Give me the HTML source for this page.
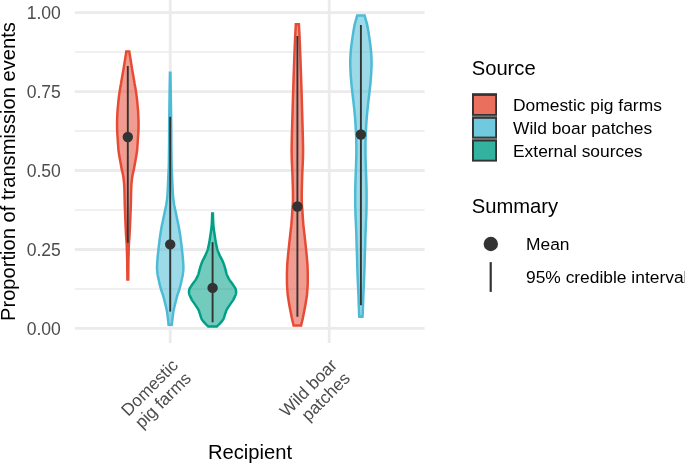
<!DOCTYPE html>
<html><head><meta charset="utf-8"><title>Proportion of transmission events</title>
<style>
html,body{margin:0;padding:0;background:#fff;}
body{width:685px;height:463px;overflow:hidden;}
svg{display:block;font-family:"Liberation Sans",sans-serif;}
</style></head><body>
<svg width="685" height="463" viewBox="0 0 685 463">
<rect width="685" height="463" fill="#ffffff"/>

<g stroke="#EBEBEB" fill="none">
<line x1="74.8" x2="424.6" y1="288.92" y2="288.92" stroke-width="1.42"/>
<line x1="74.8" x2="424.6" y1="209.97" y2="209.97" stroke-width="1.42"/>
<line x1="74.8" x2="424.6" y1="131.02" y2="131.02" stroke-width="1.42"/>
<line x1="74.8" x2="424.6" y1="52.07" y2="52.07" stroke-width="1.42"/>
<line x1="74.8" x2="424.6" y1="328.40" y2="328.40" stroke-width="2.85"/>
<line x1="74.8" x2="424.6" y1="249.45" y2="249.45" stroke-width="2.85"/>
<line x1="74.8" x2="424.6" y1="170.50" y2="170.50" stroke-width="2.85"/>
<line x1="74.8" x2="424.6" y1="91.55" y2="91.55" stroke-width="2.85"/>
<line x1="74.8" x2="424.6" y1="12.60" y2="12.60" stroke-width="2.85"/>
<line x1="170.2" x2="170.2" y1="0" y2="343.0" stroke-width="2.85"/>
<line x1="329.2" x2="329.2" y1="0" y2="343.0" stroke-width="2.85"/>
</g>
<path d="M126.29,51.60 L126.24,52.10 L126.18,52.60 L126.10,53.10 L126.02,53.60 L125.93,54.10 L125.85,54.61 L125.77,55.11 L125.68,55.61 L125.60,56.11 L125.52,56.61 L125.43,57.11 L125.35,57.61 L125.26,58.11 L125.18,58.61 L125.10,59.11 L125.02,59.61 L124.93,60.11 L124.85,60.62 L124.77,61.12 L124.69,61.62 L124.61,62.12 L124.53,62.62 L124.45,63.12 L124.37,63.62 L124.29,64.12 L124.21,64.62 L124.13,65.12 L124.05,65.62 L123.97,66.13 L123.89,66.63 L123.81,67.13 L123.73,67.63 L123.65,68.13 L123.57,68.63 L123.49,69.13 L123.41,69.63 L123.32,70.13 L123.24,70.63 L123.15,71.13 L123.06,71.64 L122.98,72.14 L122.89,72.64 L122.80,73.14 L122.71,73.64 L122.63,74.14 L122.54,74.64 L122.45,75.14 L122.36,75.64 L122.27,76.14 L122.19,76.64 L122.10,77.14 L122.01,77.65 L121.93,78.15 L121.84,78.65 L121.75,79.15 L121.67,79.65 L121.58,80.15 L121.50,80.65 L121.41,81.15 L121.32,81.65 L121.24,82.15 L121.15,82.65 L121.07,83.16 L120.98,83.66 L120.89,84.16 L120.81,84.66 L120.72,85.16 L120.63,85.66 L120.55,86.16 L120.46,86.66 L120.37,87.16 L120.28,87.66 L120.20,88.16 L120.11,88.67 L120.02,89.17 L119.94,89.67 L119.85,90.17 L119.76,90.67 L119.68,91.17 L119.61,91.67 L119.54,92.17 L119.47,92.67 L119.40,93.17 L119.33,93.67 L119.26,94.17 L119.20,94.68 L119.13,95.18 L119.06,95.68 L118.99,96.18 L118.93,96.68 L118.86,97.18 L118.80,97.68 L118.74,98.18 L118.69,98.68 L118.63,99.18 L118.58,99.68 L118.53,100.19 L118.48,100.69 L118.43,101.19 L118.38,101.69 L118.33,102.19 L118.28,102.69 L118.23,103.19 L118.18,103.69 L118.13,104.19 L118.08,104.69 L118.04,105.19 L117.99,105.69 L117.95,106.20 L117.90,106.70 L117.86,107.20 L117.82,107.70 L117.78,108.20 L117.73,108.70 L117.69,109.20 L117.65,109.70 L117.60,110.20 L117.56,110.70 L117.52,111.20 L117.48,111.71 L117.45,112.21 L117.42,112.71 L117.40,113.21 L117.38,113.71 L117.35,114.21 L117.33,114.71 L117.31,115.21 L117.29,115.71 L117.27,116.21 L117.24,116.71 L117.22,117.22 L117.20,117.72 L117.18,118.22 L117.16,118.72 L117.14,119.22 L117.12,119.72 L117.11,120.22 L117.10,120.72 L117.09,121.22 L117.08,121.72 L117.08,122.22 L117.07,122.72 L117.07,123.23 L117.06,123.73 L117.06,124.23 L117.06,124.73 L117.06,125.23 L117.06,125.73 L117.07,126.23 L117.08,126.73 L117.09,127.23 L117.10,127.73 L117.10,128.23 L117.11,128.74 L117.12,129.24 L117.13,129.74 L117.14,130.24 L117.16,130.74 L117.18,131.24 L117.20,131.74 L117.23,132.24 L117.27,132.74 L117.30,133.24 L117.33,133.74 L117.37,134.25 L117.40,134.75 L117.43,135.25 L117.47,135.75 L117.50,136.25 L117.53,136.75 L117.57,137.25 L117.60,137.75 L117.63,138.25 L117.67,138.75 L117.70,139.25 L117.73,139.75 L117.77,140.26 L117.80,140.76 L117.83,141.26 L117.87,141.76 L117.90,142.26 L117.94,142.76 L117.97,143.26 L118.00,143.76 L118.04,144.26 L118.08,144.76 L118.11,145.26 L118.15,145.77 L118.18,146.27 L118.22,146.77 L118.25,147.27 L118.29,147.77 L118.33,148.27 L118.36,148.77 L118.40,149.27 L118.45,149.77 L118.50,150.27 L118.56,150.77 L118.63,151.27 L118.70,151.78 L118.77,152.28 L118.84,152.78 L118.91,153.28 L118.98,153.78 L119.05,154.28 L119.13,154.78 L119.21,155.28 L119.29,155.78 L119.38,156.28 L119.47,156.78 L119.56,157.29 L119.65,157.79 L119.74,158.29 L119.83,158.79 L119.92,159.29 L120.01,159.79 L120.10,160.29 L120.19,160.79 L120.28,161.29 L120.37,161.79 L120.46,162.29 L120.55,162.80 L120.64,163.30 L120.73,163.80 L120.82,164.30 L120.91,164.80 L121.00,165.30 L121.10,165.80 L121.19,166.30 L121.28,166.80 L121.37,167.30 L121.46,167.80 L121.55,168.30 L121.64,168.81 L121.73,169.31 L121.83,169.81 L121.93,170.31 L122.04,170.81 L122.16,171.31 L122.29,171.81 L122.42,172.31 L122.54,172.81 L122.67,173.31 L122.78,173.81 L122.89,174.32 L122.99,174.82 L123.08,175.32 L123.17,175.82 L123.26,176.32 L123.34,176.82 L123.42,177.32 L123.50,177.82 L123.57,178.32 L123.63,178.82 L123.68,179.32 L123.73,179.83 L123.78,180.33 L123.83,180.83 L123.88,181.33 L123.93,181.83 L123.98,182.33 L124.03,182.83 L124.08,183.33 L124.13,183.83 L124.18,184.33 L124.22,184.83 L124.25,185.33 L124.27,185.84 L124.29,186.34 L124.30,186.84 L124.32,187.34 L124.34,187.84 L124.35,188.34 L124.37,188.84 L124.38,189.34 L124.40,189.84 L124.41,190.34 L124.43,190.84 L124.44,191.35 L124.46,191.85 L124.47,192.35 L124.49,192.85 L124.50,193.35 L124.52,193.85 L124.53,194.35 L124.54,194.85 L124.56,195.35 L124.57,195.85 L124.58,196.35 L124.59,196.85 L124.60,197.36 L124.61,197.86 L124.62,198.36 L124.63,198.86 L124.64,199.36 L124.65,199.86 L124.66,200.36 L124.67,200.86 L124.68,201.36 L124.69,201.86 L124.70,202.36 L124.71,202.87 L124.72,203.37 L124.73,203.87 L124.74,204.37 L124.75,204.87 L124.77,205.37 L124.79,205.87 L124.81,206.37 L124.82,206.87 L124.84,207.37 L124.86,207.87 L124.89,208.38 L124.91,208.88 L124.93,209.38 L124.95,209.88 L124.97,210.38 L124.99,210.88 L125.01,211.38 L125.03,211.88 L125.05,212.38 L125.07,212.88 L125.09,213.38 L125.11,213.88 L125.13,214.39 L125.15,214.89 L125.17,215.39 L125.19,215.89 L125.21,216.39 L125.23,216.89 L125.25,217.39 L125.27,217.89 L125.29,218.39 L125.31,218.89 L125.33,219.39 L125.35,219.90 L125.37,220.40 L125.39,220.90 L125.41,221.40 L125.43,221.90 L125.45,222.40 L125.47,222.90 L125.49,223.40 L125.51,223.90 L125.53,224.40 L125.55,224.90 L125.57,225.41 L125.60,225.91 L125.62,226.41 L125.65,226.91 L125.67,227.41 L125.70,227.91 L125.72,228.41 L125.75,228.91 L125.77,229.41 L125.80,229.91 L125.82,230.41 L125.85,230.91 L125.87,231.42 L125.90,231.92 L125.92,232.42 L125.95,232.92 L125.97,233.42 L126.00,233.92 L126.02,234.42 L126.05,234.92 L126.08,235.42 L126.12,235.92 L126.15,236.42 L126.18,236.93 L126.22,237.43 L126.25,237.93 L126.29,238.43 L126.33,238.93 L126.36,239.43 L126.40,239.93 L126.43,240.43 L126.47,240.93 L126.50,241.43 L126.54,241.93 L126.57,242.43 L126.61,242.94 L126.64,243.44 L126.67,243.94 L126.71,244.44 L126.73,244.94 L126.76,245.44 L126.78,245.94 L126.79,246.44 L126.81,246.94 L126.82,247.44 L126.84,247.94 L126.85,248.45 L126.87,248.95 L126.88,249.45 L126.90,249.95 L126.91,250.45 L126.93,250.95 L126.94,251.45 L126.96,251.95 L126.97,252.45 L126.99,252.95 L127.00,253.45 L127.02,253.96 L127.03,254.46 L127.05,254.96 L127.06,255.46 L127.08,255.96 L127.09,256.46 L127.11,256.96 L127.12,257.46 L127.14,257.96 L127.15,258.46 L127.17,258.96 L127.18,259.46 L127.19,259.97 L127.20,260.47 L127.21,260.97 L127.21,261.47 L127.22,261.97 L127.22,262.47 L127.23,262.97 L127.23,263.47 L127.24,263.97 L127.24,264.47 L127.25,264.97 L127.25,265.48 L127.26,265.98 L127.26,266.48 L127.27,266.98 L127.27,267.48 L127.28,267.98 L127.28,268.48 L127.29,268.98 L127.29,269.48 L127.30,269.98 L127.30,270.48 L127.31,270.99 L127.31,271.49 L127.32,271.99 L127.32,272.49 L127.33,272.99 L127.33,273.49 L127.34,273.99 L127.35,274.49 L127.35,274.99 L127.36,275.49 L127.36,275.99 L127.37,276.49 L127.37,277.00 L127.38,277.50 L127.38,278.00 L127.39,278.50 L127.39,279.00 L127.40,279.50 L128.20,279.50 L128.21,279.00 L128.21,278.50 L128.22,278.00 L128.22,277.50 L128.23,277.00 L128.23,276.49 L128.24,275.99 L128.24,275.49 L128.25,274.99 L128.25,274.49 L128.26,273.99 L128.27,273.49 L128.27,272.99 L128.28,272.49 L128.28,271.99 L128.29,271.49 L128.29,270.99 L128.30,270.48 L128.30,269.98 L128.31,269.48 L128.31,268.98 L128.32,268.48 L128.32,267.98 L128.33,267.48 L128.33,266.98 L128.34,266.48 L128.34,265.98 L128.35,265.48 L128.35,264.97 L128.36,264.47 L128.36,263.97 L128.37,263.47 L128.37,262.97 L128.38,262.47 L128.38,261.97 L128.39,261.47 L128.39,260.97 L128.40,260.47 L128.41,259.97 L128.42,259.46 L128.43,258.96 L128.45,258.46 L128.46,257.96 L128.48,257.46 L128.49,256.96 L128.51,256.46 L128.52,255.96 L128.54,255.46 L128.55,254.96 L128.57,254.46 L128.58,253.96 L128.60,253.45 L128.61,252.95 L128.63,252.45 L128.64,251.95 L128.66,251.45 L128.67,250.95 L128.69,250.45 L128.70,249.95 L128.72,249.45 L128.73,248.95 L128.75,248.45 L128.76,247.94 L128.78,247.44 L128.79,246.94 L128.81,246.44 L128.82,245.94 L128.84,245.44 L128.87,244.94 L128.89,244.44 L128.93,243.94 L128.96,243.44 L128.99,242.94 L129.03,242.43 L129.06,241.93 L129.10,241.43 L129.13,240.93 L129.17,240.43 L129.20,239.93 L129.24,239.43 L129.27,238.93 L129.31,238.43 L129.35,237.93 L129.38,237.43 L129.42,236.93 L129.45,236.42 L129.48,235.92 L129.52,235.42 L129.55,234.92 L129.58,234.42 L129.60,233.92 L129.63,233.42 L129.65,232.92 L129.68,232.42 L129.70,231.92 L129.73,231.42 L129.75,230.91 L129.78,230.41 L129.80,229.91 L129.83,229.41 L129.85,228.91 L129.88,228.41 L129.90,227.91 L129.93,227.41 L129.95,226.91 L129.98,226.41 L130.00,225.91 L130.03,225.41 L130.05,224.90 L130.07,224.40 L130.09,223.90 L130.11,223.40 L130.13,222.90 L130.15,222.40 L130.17,221.90 L130.19,221.40 L130.21,220.90 L130.23,220.40 L130.25,219.90 L130.27,219.39 L130.29,218.89 L130.31,218.39 L130.33,217.89 L130.35,217.39 L130.37,216.89 L130.39,216.39 L130.41,215.89 L130.43,215.39 L130.45,214.89 L130.47,214.39 L130.49,213.88 L130.51,213.38 L130.53,212.88 L130.55,212.38 L130.57,211.88 L130.59,211.38 L130.61,210.88 L130.63,210.38 L130.65,209.88 L130.67,209.38 L130.69,208.88 L130.71,208.38 L130.74,207.87 L130.76,207.37 L130.78,206.87 L130.79,206.37 L130.81,205.87 L130.83,205.37 L130.85,204.87 L130.86,204.37 L130.87,203.87 L130.88,203.37 L130.89,202.87 L130.90,202.36 L130.91,201.86 L130.92,201.36 L130.93,200.86 L130.94,200.36 L130.95,199.86 L130.96,199.36 L130.97,198.86 L130.98,198.36 L130.99,197.86 L131.00,197.36 L131.01,196.85 L131.02,196.35 L131.03,195.85 L131.04,195.35 L131.06,194.85 L131.07,194.35 L131.08,193.85 L131.10,193.35 L131.11,192.85 L131.13,192.35 L131.14,191.85 L131.16,191.35 L131.17,190.84 L131.19,190.34 L131.20,189.84 L131.22,189.34 L131.23,188.84 L131.25,188.34 L131.26,187.84 L131.28,187.34 L131.30,186.84 L131.31,186.34 L131.33,185.84 L131.35,185.33 L131.38,184.83 L131.42,184.33 L131.47,183.83 L131.52,183.33 L131.57,182.83 L131.62,182.33 L131.67,181.83 L131.72,181.33 L131.77,180.83 L131.82,180.33 L131.87,179.83 L131.92,179.32 L131.97,178.82 L132.03,178.32 L132.10,177.82 L132.18,177.32 L132.26,176.82 L132.34,176.32 L132.43,175.82 L132.52,175.32 L132.61,174.82 L132.71,174.32 L132.82,173.81 L132.93,173.31 L133.06,172.81 L133.18,172.31 L133.31,171.81 L133.44,171.31 L133.56,170.81 L133.67,170.31 L133.77,169.81 L133.87,169.31 L133.96,168.81 L134.05,168.30 L134.14,167.80 L134.23,167.30 L134.32,166.80 L134.41,166.30 L134.50,165.80 L134.60,165.30 L134.69,164.80 L134.78,164.30 L134.87,163.80 L134.96,163.30 L135.05,162.80 L135.14,162.29 L135.23,161.79 L135.32,161.29 L135.41,160.79 L135.50,160.29 L135.59,159.79 L135.68,159.29 L135.77,158.79 L135.86,158.29 L135.95,157.79 L136.04,157.29 L136.13,156.78 L136.22,156.28 L136.31,155.78 L136.39,155.28 L136.47,154.78 L136.55,154.28 L136.62,153.78 L136.69,153.28 L136.76,152.78 L136.83,152.28 L136.90,151.78 L136.97,151.27 L137.04,150.77 L137.10,150.27 L137.15,149.77 L137.20,149.27 L137.24,148.77 L137.27,148.27 L137.31,147.77 L137.35,147.27 L137.38,146.77 L137.42,146.27 L137.45,145.77 L137.49,145.26 L137.52,144.76 L137.56,144.26 L137.60,143.76 L137.63,143.26 L137.66,142.76 L137.70,142.26 L137.73,141.76 L137.77,141.26 L137.80,140.76 L137.83,140.26 L137.87,139.75 L137.90,139.25 L137.93,138.75 L137.97,138.25 L138.00,137.75 L138.03,137.25 L138.07,136.75 L138.10,136.25 L138.13,135.75 L138.17,135.25 L138.20,134.75 L138.23,134.25 L138.27,133.74 L138.30,133.24 L138.33,132.74 L138.37,132.24 L138.40,131.74 L138.42,131.24 L138.44,130.74 L138.46,130.24 L138.47,129.74 L138.48,129.24 L138.49,128.74 L138.50,128.23 L138.50,127.73 L138.51,127.23 L138.52,126.73 L138.53,126.23 L138.54,125.73 L138.54,125.23 L138.54,124.73 L138.54,124.23 L138.54,123.73 L138.53,123.23 L138.53,122.72 L138.52,122.22 L138.52,121.72 L138.51,121.22 L138.50,120.72 L138.49,120.22 L138.48,119.72 L138.46,119.22 L138.44,118.72 L138.42,118.22 L138.40,117.72 L138.38,117.22 L138.36,116.71 L138.33,116.21 L138.31,115.71 L138.29,115.21 L138.27,114.71 L138.25,114.21 L138.22,113.71 L138.20,113.21 L138.18,112.71 L138.15,112.21 L138.12,111.71 L138.08,111.20 L138.04,110.70 L138.00,110.20 L137.95,109.70 L137.91,109.20 L137.87,108.70 L137.82,108.20 L137.78,107.70 L137.74,107.20 L137.70,106.70 L137.65,106.20 L137.61,105.69 L137.56,105.19 L137.52,104.69 L137.47,104.19 L137.42,103.69 L137.37,103.19 L137.32,102.69 L137.27,102.19 L137.22,101.69 L137.17,101.19 L137.12,100.69 L137.07,100.19 L137.02,99.68 L136.97,99.18 L136.91,98.68 L136.86,98.18 L136.80,97.68 L136.74,97.18 L136.67,96.68 L136.61,96.18 L136.54,95.68 L136.47,95.18 L136.40,94.68 L136.34,94.17 L136.27,93.67 L136.20,93.17 L136.13,92.67 L136.06,92.17 L135.99,91.67 L135.92,91.17 L135.84,90.67 L135.75,90.17 L135.66,89.67 L135.58,89.17 L135.49,88.67 L135.40,88.16 L135.32,87.66 L135.23,87.16 L135.14,86.66 L135.05,86.16 L134.97,85.66 L134.88,85.16 L134.79,84.66 L134.71,84.16 L134.62,83.66 L134.53,83.16 L134.45,82.65 L134.36,82.15 L134.28,81.65 L134.19,81.15 L134.10,80.65 L134.02,80.15 L133.93,79.65 L133.85,79.15 L133.76,78.65 L133.67,78.15 L133.59,77.65 L133.50,77.14 L133.41,76.64 L133.33,76.14 L133.24,75.64 L133.15,75.14 L133.06,74.64 L132.97,74.14 L132.89,73.64 L132.80,73.14 L132.71,72.64 L132.62,72.14 L132.54,71.64 L132.45,71.13 L132.36,70.63 L132.28,70.13 L132.19,69.63 L132.11,69.13 L132.03,68.63 L131.95,68.13 L131.87,67.63 L131.79,67.13 L131.71,66.63 L131.63,66.13 L131.55,65.62 L131.47,65.12 L131.39,64.62 L131.31,64.12 L131.23,63.62 L131.15,63.12 L131.07,62.62 L130.99,62.12 L130.91,61.62 L130.83,61.12 L130.75,60.62 L130.67,60.11 L130.58,59.61 L130.50,59.11 L130.42,58.61 L130.34,58.11 L130.25,57.61 L130.17,57.11 L130.08,56.61 L130.00,56.11 L129.92,55.61 L129.83,55.11 L129.75,54.61 L129.67,54.10 L129.58,53.60 L129.50,53.10 L129.42,52.60 L129.36,52.10 L129.31,51.60Z" fill="#E64B35" fill-opacity="0.55" stroke="#E64B35" stroke-width="2.5" stroke-linejoin="miter"/>
<path d="M169.99,72.70 L169.99,73.20 L169.98,73.70 L169.97,74.20 L169.96,74.70 L169.95,75.20 L169.94,75.70 L169.93,76.20 L169.92,76.70 L169.91,77.20 L169.90,77.70 L169.89,78.20 L169.88,78.70 L169.87,79.20 L169.86,79.70 L169.85,80.20 L169.84,80.70 L169.83,81.20 L169.82,81.70 L169.81,82.20 L169.80,82.70 L169.79,83.20 L169.78,83.70 L169.77,84.20 L169.76,84.70 L169.75,85.20 L169.74,85.70 L169.73,86.20 L169.72,86.70 L169.72,87.20 L169.71,87.70 L169.70,88.20 L169.69,88.70 L169.69,89.20 L169.68,89.70 L169.67,90.20 L169.66,90.70 L169.66,91.20 L169.65,91.70 L169.64,92.20 L169.63,92.70 L169.63,93.20 L169.62,93.70 L169.61,94.20 L169.60,94.70 L169.60,95.20 L169.59,95.70 L169.58,96.20 L169.57,96.70 L169.57,97.20 L169.56,97.70 L169.55,98.20 L169.54,98.70 L169.54,99.20 L169.53,99.70 L169.52,100.20 L169.51,100.70 L169.51,101.20 L169.50,101.70 L169.49,102.20 L169.48,102.70 L169.48,103.20 L169.47,103.70 L169.46,104.20 L169.46,104.70 L169.45,105.20 L169.44,105.70 L169.44,106.20 L169.43,106.70 L169.42,107.20 L169.42,107.70 L169.41,108.20 L169.40,108.70 L169.40,109.20 L169.39,109.70 L169.38,110.20 L169.38,110.70 L169.37,111.20 L169.37,111.70 L169.36,112.20 L169.35,112.70 L169.35,113.20 L169.34,113.70 L169.33,114.20 L169.33,114.70 L169.32,115.20 L169.32,115.70 L169.31,116.20 L169.30,116.70 L169.30,117.20 L169.29,117.70 L169.28,118.20 L169.28,118.70 L169.27,119.20 L169.27,119.70 L169.26,120.20 L169.25,120.70 L169.25,121.20 L169.24,121.70 L169.23,122.20 L169.23,122.70 L169.22,123.20 L169.22,123.70 L169.21,124.20 L169.21,124.70 L169.20,125.20 L169.20,125.70 L169.19,126.20 L169.19,126.70 L169.19,127.20 L169.19,127.70 L169.18,128.20 L169.18,128.70 L169.18,129.20 L169.17,129.70 L169.17,130.20 L169.17,130.70 L169.17,131.20 L169.16,131.70 L169.16,132.20 L169.16,132.70 L169.15,133.20 L169.15,133.70 L169.15,134.20 L169.15,134.70 L169.14,135.20 L169.14,135.70 L169.14,136.20 L169.14,136.70 L169.13,137.20 L169.13,137.70 L169.13,138.20 L169.12,138.70 L169.12,139.20 L169.12,139.70 L169.12,140.20 L169.11,140.70 L169.11,141.20 L169.11,141.70 L169.11,142.20 L169.10,142.70 L169.10,143.20 L169.10,143.70 L169.09,144.20 L169.09,144.70 L169.09,145.20 L169.08,145.70 L169.08,146.20 L169.07,146.70 L169.06,147.20 L169.06,147.70 L169.05,148.20 L169.05,148.70 L169.04,149.20 L169.03,149.70 L169.03,150.20 L169.02,150.70 L169.02,151.20 L169.01,151.70 L169.00,152.20 L169.00,152.70 L168.99,153.20 L168.99,153.70 L168.98,154.20 L168.97,154.70 L168.97,155.20 L168.96,155.70 L168.96,156.20 L168.95,156.70 L168.94,157.20 L168.94,157.70 L168.93,158.20 L168.93,158.70 L168.92,159.20 L168.91,159.70 L168.91,160.20 L168.90,160.70 L168.90,161.20 L168.89,161.70 L168.88,162.20 L168.88,162.70 L168.87,163.20 L168.86,163.70 L168.86,164.20 L168.85,164.70 L168.83,165.20 L168.81,165.70 L168.79,166.20 L168.76,166.70 L168.74,167.20 L168.72,167.70 L168.69,168.20 L168.66,168.70 L168.64,169.20 L168.62,169.70 L168.59,170.20 L168.57,170.70 L168.54,171.20 L168.52,171.70 L168.50,172.20 L168.48,172.70 L168.46,173.20 L168.43,173.70 L168.41,174.20 L168.39,174.70 L168.37,175.20 L168.35,175.70 L168.33,176.20 L168.31,176.70 L168.28,177.20 L168.26,177.70 L168.24,178.20 L168.22,178.70 L168.20,179.20 L168.18,179.70 L168.16,180.20 L168.13,180.70 L168.11,181.20 L168.09,181.70 L168.07,182.20 L168.05,182.70 L168.03,183.20 L168.01,183.70 L167.98,184.20 L167.96,184.70 L167.94,185.20 L167.92,185.70 L167.90,186.20 L167.88,186.70 L167.86,187.20 L167.84,187.70 L167.82,188.20 L167.80,188.70 L167.78,189.20 L167.76,189.70 L167.73,190.20 L167.71,190.70 L167.68,191.20 L167.65,191.70 L167.62,192.20 L167.59,192.70 L167.56,193.20 L167.53,193.70 L167.50,194.20 L167.46,194.70 L167.42,195.20 L167.38,195.70 L167.33,196.20 L167.28,196.70 L167.23,197.20 L167.18,197.70 L167.13,198.20 L167.08,198.70 L167.03,199.20 L166.97,199.70 L166.91,200.20 L166.84,200.70 L166.77,201.20 L166.69,201.70 L166.62,202.20 L166.54,202.70 L166.47,203.20 L166.39,203.70 L166.32,204.20 L166.23,204.70 L166.14,205.20 L166.05,205.70 L165.95,206.20 L165.84,206.70 L165.74,207.20 L165.63,207.70 L165.53,208.20 L165.42,208.70 L165.32,209.20 L165.21,209.70 L165.11,210.20 L165.00,210.70 L164.90,211.20 L164.79,211.70 L164.68,212.20 L164.58,212.70 L164.47,213.20 L164.37,213.70 L164.26,214.20 L164.15,214.70 L164.05,215.20 L163.94,215.70 L163.84,216.20 L163.74,216.70 L163.63,217.20 L163.53,217.70 L163.42,218.20 L163.32,218.70 L163.22,219.20 L163.11,219.70 L163.00,220.20 L162.89,220.70 L162.79,221.20 L162.68,221.70 L162.57,222.20 L162.46,222.70 L162.35,223.20 L162.24,223.70 L162.13,224.20 L162.02,224.70 L161.92,225.20 L161.83,225.70 L161.73,226.20 L161.64,226.70 L161.55,227.20 L161.46,227.70 L161.37,228.20 L161.28,228.70 L161.20,229.20 L161.11,229.70 L161.02,230.20 L160.94,230.70 L160.86,231.20 L160.78,231.70 L160.70,232.20 L160.62,232.70 L160.54,233.20 L160.46,233.70 L160.38,234.20 L160.30,234.70 L160.23,235.20 L160.16,235.70 L160.09,236.20 L160.03,236.70 L159.96,237.20 L159.90,237.70 L159.83,238.20 L159.77,238.70 L159.70,239.20 L159.64,239.70 L159.57,240.20 L159.51,240.70 L159.44,241.20 L159.38,241.70 L159.31,242.20 L159.25,242.70 L159.18,243.20 L159.12,243.70 L159.06,244.20 L158.99,244.70 L158.93,245.20 L158.87,245.70 L158.82,246.20 L158.76,246.70 L158.71,247.20 L158.65,247.70 L158.60,248.20 L158.54,248.70 L158.49,249.20 L158.43,249.70 L158.38,250.20 L158.32,250.70 L158.27,251.20 L158.21,251.70 L158.16,252.20 L158.10,252.70 L158.05,253.20 L157.99,253.70 L157.94,254.20 L157.89,254.70 L157.84,255.20 L157.79,255.70 L157.75,256.20 L157.70,256.70 L157.66,257.20 L157.62,257.70 L157.58,258.20 L157.53,258.70 L157.49,259.20 L157.45,259.70 L157.40,260.20 L157.36,260.70 L157.32,261.20 L157.28,261.70 L157.24,262.20 L157.21,262.70 L157.18,263.20 L157.14,263.70 L157.11,264.20 L157.08,264.70 L157.06,265.20 L157.03,265.70 L157.02,266.20 L157.02,266.70 L157.02,267.20 L157.02,267.70 L157.03,268.20 L157.04,268.70 L157.05,269.20 L157.07,269.70 L157.10,270.20 L157.14,270.70 L157.20,271.20 L157.25,271.70 L157.31,272.20 L157.37,272.70 L157.43,273.20 L157.50,273.70 L157.56,274.20 L157.63,274.70 L157.72,275.20 L157.81,275.70 L157.92,276.20 L158.02,276.70 L158.13,277.20 L158.24,277.70 L158.35,278.20 L158.46,278.70 L158.57,279.20 L158.68,279.70 L158.79,280.20 L158.90,280.70 L159.01,281.20 L159.12,281.70 L159.23,282.20 L159.34,282.70 L159.45,283.20 L159.56,283.70 L159.68,284.20 L159.79,284.70 L159.91,285.20 L160.04,285.70 L160.16,286.20 L160.29,286.70 L160.42,287.20 L160.55,287.70 L160.68,288.20 L160.81,288.70 L160.95,289.20 L161.09,289.70 L161.25,290.20 L161.41,290.70 L161.58,291.20 L161.76,291.70 L161.94,292.20 L162.12,292.70 L162.30,293.20 L162.48,293.70 L162.66,294.20 L162.82,294.70 L162.98,295.20 L163.13,295.70 L163.27,296.20 L163.41,296.70 L163.54,297.20 L163.68,297.70 L163.81,298.20 L163.95,298.70 L164.08,299.20 L164.21,299.70 L164.35,300.20 L164.47,300.70 L164.60,301.20 L164.72,301.70 L164.85,302.20 L164.97,302.70 L165.10,303.20 L165.22,303.70 L165.35,304.20 L165.47,304.70 L165.60,305.20 L165.72,305.70 L165.84,306.20 L165.96,306.70 L166.08,307.20 L166.20,307.70 L166.32,308.20 L166.44,308.70 L166.55,309.20 L166.66,309.70 L166.75,310.20 L166.84,310.70 L166.92,311.20 L166.99,311.70 L167.06,312.20 L167.13,312.70 L167.20,313.20 L167.27,313.70 L167.34,314.20 L167.40,314.70 L167.47,315.20 L167.53,315.70 L167.59,316.20 L167.65,316.70 L167.71,317.20 L167.77,317.70 L167.83,318.20 L167.89,318.70 L167.95,319.20 L168.01,319.70 L168.07,320.20 L168.13,320.70 L168.19,321.20 L168.25,321.70 L168.31,322.20 L168.37,322.70 L168.42,323.20 L168.48,323.70 L168.52,324.20 L168.56,324.70 L171.84,324.70 L171.88,324.20 L171.92,323.70 L171.98,323.20 L172.03,322.70 L172.09,322.20 L172.15,321.70 L172.21,321.20 L172.27,320.70 L172.33,320.20 L172.39,319.70 L172.45,319.20 L172.51,318.70 L172.57,318.20 L172.63,317.70 L172.69,317.20 L172.75,316.70 L172.81,316.20 L172.87,315.70 L172.93,315.20 L173.00,314.70 L173.06,314.20 L173.13,313.70 L173.20,313.20 L173.27,312.70 L173.34,312.20 L173.41,311.70 L173.48,311.20 L173.56,310.70 L173.65,310.20 L173.74,309.70 L173.85,309.20 L173.96,308.70 L174.08,308.20 L174.20,307.70 L174.32,307.20 L174.44,306.70 L174.56,306.20 L174.68,305.70 L174.80,305.20 L174.93,304.70 L175.05,304.20 L175.18,303.70 L175.30,303.20 L175.42,302.70 L175.55,302.20 L175.68,301.70 L175.80,301.20 L175.93,300.70 L176.05,300.20 L176.19,299.70 L176.32,299.20 L176.45,298.70 L176.59,298.20 L176.72,297.70 L176.86,297.20 L176.99,296.70 L177.13,296.20 L177.27,295.70 L177.42,295.20 L177.58,294.70 L177.74,294.20 L177.92,293.70 L178.10,293.20 L178.28,292.70 L178.46,292.20 L178.64,291.70 L178.82,291.20 L178.99,290.70 L179.15,290.20 L179.31,289.70 L179.45,289.20 L179.59,288.70 L179.72,288.20 L179.85,287.70 L179.98,287.20 L180.11,286.70 L180.24,286.20 L180.36,285.70 L180.49,285.20 L180.61,284.70 L180.72,284.20 L180.84,283.70 L180.95,283.20 L181.06,282.70 L181.17,282.20 L181.28,281.70 L181.39,281.20 L181.50,280.70 L181.61,280.20 L181.72,279.70 L181.83,279.20 L181.94,278.70 L182.05,278.20 L182.16,277.70 L182.27,277.20 L182.38,276.70 L182.48,276.20 L182.59,275.70 L182.68,275.20 L182.77,274.70 L182.84,274.20 L182.90,273.70 L182.97,273.20 L183.03,272.70 L183.09,272.20 L183.15,271.70 L183.20,271.20 L183.26,270.70 L183.30,270.20 L183.33,269.70 L183.35,269.20 L183.36,268.70 L183.37,268.20 L183.38,267.70 L183.38,267.20 L183.38,266.70 L183.38,266.20 L183.37,265.70 L183.34,265.20 L183.32,264.70 L183.29,264.20 L183.26,263.70 L183.22,263.20 L183.19,262.70 L183.16,262.20 L183.12,261.70 L183.08,261.20 L183.04,260.70 L183.00,260.20 L182.95,259.70 L182.91,259.20 L182.87,258.70 L182.82,258.20 L182.78,257.70 L182.74,257.20 L182.70,256.70 L182.65,256.20 L182.61,255.70 L182.56,255.20 L182.51,254.70 L182.46,254.20 L182.41,253.70 L182.35,253.20 L182.30,252.70 L182.24,252.20 L182.19,251.70 L182.13,251.20 L182.08,250.70 L182.02,250.20 L181.97,249.70 L181.91,249.20 L181.86,248.70 L181.80,248.20 L181.75,247.70 L181.69,247.20 L181.64,246.70 L181.58,246.20 L181.53,245.70 L181.47,245.20 L181.41,244.70 L181.34,244.20 L181.28,243.70 L181.22,243.20 L181.15,242.70 L181.09,242.20 L181.02,241.70 L180.96,241.20 L180.89,240.70 L180.83,240.20 L180.76,239.70 L180.70,239.20 L180.63,238.70 L180.57,238.20 L180.50,237.70 L180.44,237.20 L180.37,236.70 L180.31,236.20 L180.24,235.70 L180.17,235.20 L180.10,234.70 L180.02,234.20 L179.94,233.70 L179.86,233.20 L179.78,232.70 L179.70,232.20 L179.62,231.70 L179.54,231.20 L179.46,230.70 L179.38,230.20 L179.29,229.70 L179.20,229.20 L179.12,228.70 L179.03,228.20 L178.94,227.70 L178.85,227.20 L178.76,226.70 L178.67,226.20 L178.57,225.70 L178.48,225.20 L178.38,224.70 L178.27,224.20 L178.16,223.70 L178.05,223.20 L177.94,222.70 L177.83,222.20 L177.72,221.70 L177.61,221.20 L177.51,220.70 L177.40,220.20 L177.29,219.70 L177.18,219.20 L177.08,218.70 L176.98,218.20 L176.87,217.70 L176.77,217.20 L176.66,216.70 L176.56,216.20 L176.46,215.70 L176.35,215.20 L176.25,214.70 L176.14,214.20 L176.03,213.70 L175.93,213.20 L175.82,212.70 L175.72,212.20 L175.61,211.70 L175.50,211.20 L175.40,210.70 L175.29,210.20 L175.19,209.70 L175.08,209.20 L174.98,208.70 L174.87,208.20 L174.77,207.70 L174.66,207.20 L174.56,206.70 L174.45,206.20 L174.35,205.70 L174.26,205.20 L174.17,204.70 L174.08,204.20 L174.01,203.70 L173.93,203.20 L173.85,202.70 L173.78,202.20 L173.71,201.70 L173.63,201.20 L173.56,200.70 L173.49,200.20 L173.43,199.70 L173.37,199.20 L173.32,198.70 L173.27,198.20 L173.22,197.70 L173.17,197.20 L173.12,196.70 L173.07,196.20 L173.02,195.70 L172.98,195.20 L172.94,194.70 L172.90,194.20 L172.87,193.70 L172.84,193.20 L172.81,192.70 L172.78,192.20 L172.75,191.70 L172.72,191.20 L172.69,190.70 L172.67,190.20 L172.64,189.70 L172.62,189.20 L172.60,188.70 L172.58,188.20 L172.56,187.70 L172.54,187.20 L172.52,186.70 L172.50,186.20 L172.48,185.70 L172.46,185.20 L172.44,184.70 L172.42,184.20 L172.39,183.70 L172.37,183.20 L172.35,182.70 L172.33,182.20 L172.31,181.70 L172.29,181.20 L172.27,180.70 L172.24,180.20 L172.22,179.70 L172.20,179.20 L172.18,178.70 L172.16,178.20 L172.14,177.70 L172.12,177.20 L172.09,176.70 L172.07,176.20 L172.05,175.70 L172.03,175.20 L172.01,174.70 L171.99,174.20 L171.97,173.70 L171.94,173.20 L171.92,172.70 L171.90,172.20 L171.88,171.70 L171.86,171.20 L171.83,170.70 L171.81,170.20 L171.78,169.70 L171.76,169.20 L171.73,168.70 L171.71,168.20 L171.68,167.70 L171.66,167.20 L171.64,166.70 L171.61,166.20 L171.59,165.70 L171.57,165.20 L171.55,164.70 L171.54,164.20 L171.54,163.70 L171.53,163.20 L171.52,162.70 L171.52,162.20 L171.51,161.70 L171.50,161.20 L171.50,160.70 L171.49,160.20 L171.49,159.70 L171.48,159.20 L171.47,158.70 L171.47,158.20 L171.46,157.70 L171.46,157.20 L171.45,156.70 L171.44,156.20 L171.44,155.70 L171.43,155.20 L171.43,154.70 L171.42,154.20 L171.41,153.70 L171.41,153.20 L171.40,152.70 L171.40,152.20 L171.39,151.70 L171.38,151.20 L171.38,150.70 L171.37,150.20 L171.37,149.70 L171.36,149.20 L171.35,148.70 L171.35,148.20 L171.34,147.70 L171.34,147.20 L171.33,146.70 L171.32,146.20 L171.32,145.70 L171.31,145.20 L171.31,144.70 L171.31,144.20 L171.30,143.70 L171.30,143.20 L171.30,142.70 L171.29,142.20 L171.29,141.70 L171.29,141.20 L171.29,140.70 L171.28,140.20 L171.28,139.70 L171.28,139.20 L171.28,138.70 L171.27,138.20 L171.27,137.70 L171.27,137.20 L171.26,136.70 L171.26,136.20 L171.26,135.70 L171.26,135.20 L171.25,134.70 L171.25,134.20 L171.25,133.70 L171.25,133.20 L171.24,132.70 L171.24,132.20 L171.24,131.70 L171.23,131.20 L171.23,130.70 L171.23,130.20 L171.23,129.70 L171.22,129.20 L171.22,128.70 L171.22,128.20 L171.21,127.70 L171.21,127.20 L171.21,126.70 L171.21,126.20 L171.20,125.70 L171.20,125.20 L171.19,124.70 L171.19,124.20 L171.18,123.70 L171.18,123.20 L171.17,122.70 L171.16,122.20 L171.16,121.70 L171.15,121.20 L171.15,120.70 L171.14,120.20 L171.13,119.70 L171.13,119.20 L171.12,118.70 L171.11,118.20 L171.11,117.70 L171.10,117.20 L171.10,116.70 L171.09,116.20 L171.08,115.70 L171.08,115.20 L171.07,114.70 L171.06,114.20 L171.06,113.70 L171.05,113.20 L171.05,112.70 L171.04,112.20 L171.03,111.70 L171.03,111.20 L171.02,110.70 L171.01,110.20 L171.01,109.70 L171.00,109.20 L171.00,108.70 L170.99,108.20 L170.98,107.70 L170.98,107.20 L170.97,106.70 L170.96,106.20 L170.96,105.70 L170.95,105.20 L170.94,104.70 L170.94,104.20 L170.93,103.70 L170.92,103.20 L170.92,102.70 L170.91,102.20 L170.90,101.70 L170.89,101.20 L170.89,100.70 L170.88,100.20 L170.87,99.70 L170.86,99.20 L170.86,98.70 L170.85,98.20 L170.84,97.70 L170.83,97.20 L170.83,96.70 L170.82,96.20 L170.81,95.70 L170.80,95.20 L170.80,94.70 L170.79,94.20 L170.78,93.70 L170.77,93.20 L170.77,92.70 L170.76,92.20 L170.75,91.70 L170.74,91.20 L170.74,90.70 L170.73,90.20 L170.72,89.70 L170.71,89.20 L170.71,88.70 L170.70,88.20 L170.69,87.70 L170.68,87.20 L170.68,86.70 L170.67,86.20 L170.66,85.70 L170.65,85.20 L170.64,84.70 L170.63,84.20 L170.62,83.70 L170.61,83.20 L170.60,82.70 L170.59,82.20 L170.58,81.70 L170.57,81.20 L170.56,80.70 L170.55,80.20 L170.54,79.70 L170.53,79.20 L170.52,78.70 L170.51,78.20 L170.50,77.70 L170.49,77.20 L170.48,76.70 L170.47,76.20 L170.46,75.70 L170.45,75.20 L170.44,74.70 L170.43,74.20 L170.42,73.70 L170.41,73.20 L170.41,72.70Z" fill="#4DBBD5" fill-opacity="0.55" stroke="#4DBBD5" stroke-width="2.5" stroke-linejoin="miter"/>
<path d="M212.19,213.60 L212.18,214.10 L212.17,214.60 L212.15,215.10 L212.14,215.60 L212.12,216.10 L212.11,216.60 L212.09,217.10 L212.08,217.60 L212.06,218.10 L212.04,218.60 L212.03,219.10 L212.01,219.60 L211.99,220.10 L211.97,220.60 L211.94,221.10 L211.92,221.60 L211.90,222.10 L211.87,222.60 L211.84,223.10 L211.82,223.60 L211.79,224.10 L211.76,224.60 L211.72,225.10 L211.68,225.60 L211.63,226.10 L211.57,226.60 L211.52,227.10 L211.46,227.60 L211.41,228.10 L211.35,228.60 L211.30,229.10 L211.24,229.60 L211.17,230.10 L211.10,230.60 L211.02,231.10 L210.94,231.60 L210.86,232.10 L210.78,232.60 L210.70,233.10 L210.62,233.60 L210.55,234.10 L210.47,234.60 L210.39,235.10 L210.32,235.60 L210.25,236.10 L210.18,236.60 L210.11,237.10 L210.04,237.60 L209.97,238.10 L209.90,238.60 L209.82,239.10 L209.75,239.60 L209.67,240.10 L209.59,240.60 L209.50,241.10 L209.41,241.60 L209.32,242.10 L209.23,242.60 L209.14,243.10 L209.05,243.60 L208.96,244.10 L208.86,244.60 L208.76,245.10 L208.65,245.60 L208.53,246.10 L208.42,246.60 L208.30,247.10 L208.18,247.60 L208.06,248.10 L207.93,248.60 L207.81,249.10 L207.67,249.60 L207.51,250.10 L207.34,250.60 L207.16,251.10 L206.96,251.60 L206.76,252.10 L206.56,252.60 L206.36,253.10 L206.16,253.60 L205.95,254.10 L205.74,254.60 L205.51,255.10 L205.27,255.60 L205.02,256.10 L204.77,256.60 L204.51,257.10 L204.25,257.60 L203.99,258.10 L203.73,258.60 L203.47,259.10 L203.22,259.60 L202.99,260.10 L202.76,260.60 L202.54,261.10 L202.33,261.60 L202.12,262.10 L201.91,262.60 L201.70,263.10 L201.49,263.60 L201.29,264.10 L201.09,264.60 L200.91,265.10 L200.75,265.60 L200.60,266.10 L200.45,266.60 L200.31,267.10 L200.17,267.60 L200.03,268.10 L199.89,268.60 L199.75,269.10 L199.62,269.60 L199.48,270.10 L199.35,270.60 L199.21,271.10 L199.08,271.60 L198.95,272.10 L198.82,272.60 L198.69,273.10 L198.56,273.60 L198.42,274.10 L198.26,274.60 L198.07,275.10 L197.86,275.60 L197.62,276.10 L197.37,276.60 L197.11,277.10 L196.85,277.60 L196.59,278.10 L196.33,278.60 L196.06,279.10 L195.77,279.60 L195.47,280.10 L195.14,280.60 L194.79,281.10 L194.43,281.60 L194.07,282.10 L193.70,282.60 L193.34,283.10 L192.97,283.60 L192.61,284.10 L192.25,284.60 L191.89,285.10 L191.53,285.60 L191.18,286.10 L190.83,286.60 L190.49,287.10 L190.16,287.60 L189.87,288.10 L189.63,288.60 L189.45,289.10 L189.31,289.60 L189.21,290.10 L189.11,290.60 L189.04,291.10 L188.99,291.60 L188.99,292.10 L189.02,292.60 L189.10,293.10 L189.20,293.60 L189.32,294.10 L189.46,294.60 L189.62,295.10 L189.82,295.60 L190.04,296.10 L190.27,296.60 L190.51,297.10 L190.75,297.60 L190.99,298.10 L191.23,298.60 L191.48,299.10 L191.74,299.60 L192.03,300.10 L192.34,300.60 L192.68,301.10 L193.02,301.60 L193.37,302.10 L193.72,302.60 L194.07,303.10 L194.42,303.60 L194.77,304.10 L195.11,304.60 L195.45,305.10 L195.78,305.60 L196.11,306.10 L196.44,306.60 L196.77,307.10 L197.09,307.60 L197.41,308.10 L197.74,308.60 L198.05,309.10 L198.34,309.60 L198.59,310.10 L198.81,310.60 L199.00,311.10 L199.18,311.60 L199.34,312.10 L199.51,312.60 L199.67,313.10 L199.84,313.60 L200.00,314.10 L200.16,314.60 L200.32,315.10 L200.48,315.60 L200.63,316.10 L200.78,316.60 L200.94,317.10 L201.11,317.60 L201.29,318.10 L201.49,318.60 L201.72,319.10 L202.00,319.60 L202.32,320.10 L202.69,320.60 L203.10,321.10 L203.54,321.60 L203.99,322.10 L204.44,322.60 L204.89,323.10 L205.35,323.60 L205.82,324.10 L206.32,324.60 L206.86,325.10 L207.43,325.60 L207.92,326.10 L208.28,326.60 L216.82,326.60 L217.18,326.10 L217.67,325.60 L218.24,325.10 L218.78,324.60 L219.28,324.10 L219.75,323.60 L220.21,323.10 L220.66,322.60 L221.11,322.10 L221.56,321.60 L222.00,321.10 L222.41,320.60 L222.78,320.10 L223.10,319.60 L223.38,319.10 L223.61,318.60 L223.81,318.10 L223.99,317.60 L224.16,317.10 L224.32,316.60 L224.47,316.10 L224.62,315.60 L224.78,315.10 L224.94,314.60 L225.10,314.10 L225.26,313.60 L225.43,313.10 L225.59,312.60 L225.76,312.10 L225.92,311.60 L226.10,311.10 L226.29,310.60 L226.51,310.10 L226.76,309.60 L227.05,309.10 L227.36,308.60 L227.69,308.10 L228.01,307.60 L228.33,307.10 L228.66,306.60 L228.99,306.10 L229.32,305.60 L229.65,305.10 L229.99,304.60 L230.33,304.10 L230.68,303.60 L231.03,303.10 L231.38,302.60 L231.73,302.10 L232.08,301.60 L232.42,301.10 L232.76,300.60 L233.07,300.10 L233.36,299.60 L233.62,299.10 L233.87,298.60 L234.11,298.10 L234.35,297.60 L234.59,297.10 L234.83,296.60 L235.06,296.10 L235.28,295.60 L235.48,295.10 L235.64,294.60 L235.78,294.10 L235.90,293.60 L236.00,293.10 L236.08,292.60 L236.11,292.10 L236.11,291.60 L236.06,291.10 L235.99,290.60 L235.89,290.10 L235.79,289.60 L235.65,289.10 L235.47,288.60 L235.23,288.10 L234.94,287.60 L234.61,287.10 L234.27,286.60 L233.92,286.10 L233.57,285.60 L233.21,285.10 L232.85,284.60 L232.49,284.10 L232.13,283.60 L231.76,283.10 L231.40,282.60 L231.03,282.10 L230.67,281.60 L230.31,281.10 L229.96,280.60 L229.63,280.10 L229.33,279.60 L229.04,279.10 L228.77,278.60 L228.51,278.10 L228.25,277.60 L227.99,277.10 L227.73,276.60 L227.48,276.10 L227.24,275.60 L227.03,275.10 L226.84,274.60 L226.68,274.10 L226.54,273.60 L226.41,273.10 L226.28,272.60 L226.15,272.10 L226.02,271.60 L225.89,271.10 L225.75,270.60 L225.62,270.10 L225.48,269.60 L225.35,269.10 L225.21,268.60 L225.07,268.10 L224.93,267.60 L224.79,267.10 L224.65,266.60 L224.50,266.10 L224.35,265.60 L224.19,265.10 L224.01,264.60 L223.81,264.10 L223.61,263.60 L223.40,263.10 L223.19,262.60 L222.98,262.10 L222.77,261.60 L222.56,261.10 L222.34,260.60 L222.11,260.10 L221.88,259.60 L221.63,259.10 L221.37,258.60 L221.11,258.10 L220.85,257.60 L220.59,257.10 L220.33,256.60 L220.08,256.10 L219.83,255.60 L219.59,255.10 L219.36,254.60 L219.15,254.10 L218.94,253.60 L218.74,253.10 L218.54,252.60 L218.34,252.10 L218.14,251.60 L217.94,251.10 L217.76,250.60 L217.59,250.10 L217.43,249.60 L217.29,249.10 L217.17,248.60 L217.04,248.10 L216.92,247.60 L216.80,247.10 L216.68,246.60 L216.57,246.10 L216.45,245.60 L216.34,245.10 L216.24,244.60 L216.14,244.10 L216.05,243.60 L215.96,243.10 L215.87,242.60 L215.78,242.10 L215.69,241.60 L215.60,241.10 L215.51,240.60 L215.43,240.10 L215.35,239.60 L215.28,239.10 L215.20,238.60 L215.13,238.10 L215.06,237.60 L214.99,237.10 L214.92,236.60 L214.85,236.10 L214.78,235.60 L214.71,235.10 L214.63,234.60 L214.55,234.10 L214.48,233.60 L214.40,233.10 L214.32,232.60 L214.24,232.10 L214.16,231.60 L214.08,231.10 L214.00,230.60 L213.93,230.10 L213.86,229.60 L213.80,229.10 L213.75,228.60 L213.69,228.10 L213.64,227.60 L213.58,227.10 L213.53,226.60 L213.47,226.10 L213.42,225.60 L213.38,225.10 L213.34,224.60 L213.31,224.10 L213.28,223.60 L213.26,223.10 L213.23,222.60 L213.21,222.10 L213.18,221.60 L213.16,221.10 L213.13,220.60 L213.11,220.10 L213.09,219.60 L213.07,219.10 L213.06,218.60 L213.04,218.10 L213.03,217.60 L213.01,217.10 L212.99,216.60 L212.98,216.10 L212.96,215.60 L212.95,215.10 L212.93,214.60 L212.92,214.10 L212.91,213.60Z" fill="#00A087" fill-opacity="0.55" stroke="#00A087" stroke-width="2.5" stroke-linejoin="miter"/>
<path d="M295.83,24.30 L295.81,24.80 L295.79,25.30 L295.76,25.80 L295.73,26.30 L295.71,26.80 L295.68,27.30 L295.65,27.80 L295.62,28.30 L295.59,28.80 L295.56,29.30 L295.53,29.80 L295.50,30.30 L295.47,30.80 L295.44,31.30 L295.42,31.80 L295.39,32.31 L295.36,32.81 L295.33,33.31 L295.30,33.81 L295.27,34.31 L295.24,34.81 L295.22,35.31 L295.20,35.81 L295.17,36.31 L295.15,36.81 L295.13,37.31 L295.11,37.81 L295.09,38.31 L295.07,38.81 L295.04,39.31 L295.02,39.81 L295.00,40.31 L294.98,40.81 L294.96,41.31 L294.94,41.81 L294.92,42.31 L294.89,42.81 L294.87,43.31 L294.85,43.81 L294.83,44.31 L294.81,44.81 L294.79,45.31 L294.77,45.81 L294.75,46.31 L294.73,46.81 L294.71,47.32 L294.69,47.82 L294.67,48.32 L294.65,48.82 L294.63,49.32 L294.61,49.82 L294.59,50.32 L294.57,50.82 L294.55,51.32 L294.53,51.82 L294.51,52.32 L294.49,52.82 L294.47,53.32 L294.45,53.82 L294.43,54.32 L294.41,54.82 L294.39,55.32 L294.37,55.82 L294.35,56.32 L294.34,56.82 L294.32,57.32 L294.30,57.82 L294.28,58.32 L294.27,58.82 L294.25,59.32 L294.23,59.82 L294.21,60.32 L294.20,60.82 L294.18,61.32 L294.16,61.82 L294.14,62.33 L294.13,62.83 L294.11,63.33 L294.09,63.83 L294.07,64.33 L294.06,64.83 L294.04,65.33 L294.02,65.83 L294.00,66.33 L293.99,66.83 L293.97,67.33 L293.95,67.83 L293.93,68.33 L293.92,68.83 L293.90,69.33 L293.88,69.83 L293.86,70.33 L293.85,70.83 L293.83,71.33 L293.81,71.83 L293.79,72.33 L293.78,72.83 L293.76,73.33 L293.74,73.83 L293.72,74.33 L293.71,74.83 L293.69,75.33 L293.67,75.83 L293.66,76.33 L293.64,76.83 L293.62,77.34 L293.61,77.84 L293.59,78.34 L293.57,78.84 L293.56,79.34 L293.54,79.84 L293.52,80.34 L293.51,80.84 L293.49,81.34 L293.47,81.84 L293.46,82.34 L293.44,82.84 L293.42,83.34 L293.41,83.84 L293.39,84.34 L293.38,84.84 L293.36,85.34 L293.34,85.84 L293.33,86.34 L293.31,86.84 L293.29,87.34 L293.28,87.84 L293.26,88.34 L293.24,88.84 L293.23,89.34 L293.21,89.84 L293.19,90.34 L293.18,90.84 L293.16,91.34 L293.14,91.84 L293.13,92.35 L293.11,92.85 L293.09,93.35 L293.08,93.85 L293.06,94.35 L293.05,94.85 L293.03,95.35 L293.02,95.85 L293.00,96.35 L292.99,96.85 L292.97,97.35 L292.96,97.85 L292.94,98.35 L292.93,98.85 L292.92,99.35 L292.90,99.85 L292.89,100.35 L292.87,100.85 L292.86,101.35 L292.84,101.85 L292.83,102.35 L292.82,102.85 L292.80,103.35 L292.79,103.85 L292.77,104.35 L292.76,104.85 L292.74,105.35 L292.73,105.85 L292.72,106.35 L292.70,106.85 L292.69,107.36 L292.67,107.86 L292.66,108.36 L292.65,108.86 L292.63,109.36 L292.62,109.86 L292.60,110.36 L292.59,110.86 L292.57,111.36 L292.56,111.86 L292.55,112.36 L292.53,112.86 L292.52,113.36 L292.50,113.86 L292.49,114.36 L292.47,114.86 L292.46,115.36 L292.45,115.86 L292.43,116.36 L292.42,116.86 L292.40,117.36 L292.39,117.86 L292.37,118.36 L292.36,118.86 L292.35,119.36 L292.33,119.86 L292.32,120.36 L292.30,120.86 L292.29,121.36 L292.27,121.86 L292.26,122.37 L292.25,122.87 L292.23,123.37 L292.22,123.87 L292.20,124.37 L292.19,124.87 L292.17,125.37 L292.16,125.87 L292.15,126.37 L292.13,126.87 L292.12,127.37 L292.10,127.87 L292.09,128.37 L292.07,128.87 L292.06,129.37 L292.05,129.87 L292.03,130.37 L292.02,130.87 L292.00,131.37 L291.99,131.87 L291.97,132.37 L291.96,132.87 L291.95,133.37 L291.93,133.87 L291.92,134.37 L291.91,134.87 L291.89,135.37 L291.88,135.87 L291.87,136.37 L291.86,136.87 L291.85,137.38 L291.84,137.88 L291.83,138.38 L291.82,138.88 L291.81,139.38 L291.80,139.88 L291.79,140.38 L291.78,140.88 L291.77,141.38 L291.76,141.88 L291.75,142.38 L291.74,142.88 L291.73,143.38 L291.72,143.88 L291.71,144.38 L291.70,144.88 L291.69,145.38 L291.68,145.88 L291.67,146.38 L291.66,146.88 L291.65,147.38 L291.64,147.88 L291.63,148.38 L291.62,148.88 L291.62,149.38 L291.61,149.88 L291.61,150.38 L291.62,150.88 L291.63,151.38 L291.64,151.88 L291.65,152.39 L291.66,152.89 L291.67,153.39 L291.68,153.89 L291.69,154.39 L291.70,154.89 L291.71,155.39 L291.72,155.89 L291.73,156.39 L291.74,156.89 L291.75,157.39 L291.76,157.89 L291.77,158.39 L291.78,158.89 L291.79,159.39 L291.80,159.89 L291.82,160.39 L291.84,160.89 L291.86,161.39 L291.89,161.89 L291.91,162.39 L291.93,162.89 L291.95,163.39 L291.98,163.89 L292.00,164.39 L292.02,164.89 L292.04,165.39 L292.07,165.89 L292.09,166.39 L292.11,166.89 L292.14,167.40 L292.16,167.90 L292.18,168.40 L292.20,168.90 L292.23,169.40 L292.25,169.90 L292.27,170.40 L292.29,170.90 L292.32,171.40 L292.34,171.90 L292.36,172.40 L292.38,172.90 L292.41,173.40 L292.43,173.90 L292.45,174.40 L292.47,174.90 L292.49,175.40 L292.50,175.90 L292.52,176.40 L292.53,176.90 L292.55,177.40 L292.56,177.90 L292.58,178.40 L292.59,178.90 L292.60,179.40 L292.62,179.90 L292.63,180.40 L292.65,180.90 L292.66,181.40 L292.67,181.90 L292.69,182.40 L292.70,182.91 L292.72,183.41 L292.73,183.91 L292.74,184.41 L292.76,184.91 L292.77,185.41 L292.79,185.91 L292.80,186.41 L292.81,186.91 L292.83,187.41 L292.84,187.91 L292.86,188.41 L292.87,188.91 L292.88,189.41 L292.89,189.91 L292.90,190.41 L292.91,190.91 L292.91,191.41 L292.92,191.91 L292.92,192.41 L292.93,192.91 L292.93,193.41 L292.94,193.91 L292.94,194.41 L292.95,194.91 L292.95,195.41 L292.96,195.91 L292.96,196.41 L292.97,196.91 L292.97,197.41 L292.98,197.92 L292.98,198.42 L292.99,198.92 L292.99,199.42 L292.98,199.92 L292.98,200.42 L292.96,200.92 L292.94,201.42 L292.92,201.92 L292.90,202.42 L292.88,202.92 L292.86,203.42 L292.84,203.92 L292.82,204.42 L292.79,204.92 L292.75,205.42 L292.71,205.92 L292.67,206.42 L292.62,206.92 L292.58,207.42 L292.53,207.92 L292.49,208.42 L292.44,208.92 L292.40,209.42 L292.36,209.92 L292.33,210.42 L292.30,210.92 L292.27,211.42 L292.25,211.92 L292.22,212.42 L292.20,212.93 L292.18,213.43 L292.15,213.93 L292.12,214.43 L292.10,214.93 L292.06,215.43 L292.03,215.93 L291.99,216.43 L291.95,216.93 L291.91,217.43 L291.87,217.93 L291.84,218.43 L291.80,218.93 L291.76,219.43 L291.72,219.93 L291.68,220.43 L291.64,220.93 L291.60,221.43 L291.57,221.93 L291.53,222.43 L291.49,222.93 L291.45,223.43 L291.41,223.93 L291.37,224.43 L291.32,224.93 L291.28,225.43 L291.22,225.93 L291.17,226.43 L291.11,226.93 L291.05,227.43 L291.00,227.94 L290.94,228.44 L290.89,228.94 L290.83,229.44 L290.77,229.94 L290.72,230.44 L290.66,230.94 L290.60,231.44 L290.55,231.94 L290.49,232.44 L290.43,232.94 L290.38,233.44 L290.32,233.94 L290.26,234.44 L290.21,234.94 L290.15,235.44 L290.10,235.94 L290.04,236.44 L289.99,236.94 L289.93,237.44 L289.88,237.94 L289.82,238.44 L289.77,238.94 L289.71,239.44 L289.66,239.94 L289.60,240.44 L289.55,240.94 L289.49,241.44 L289.44,241.94 L289.38,242.44 L289.33,242.95 L289.27,243.45 L289.22,243.95 L289.16,244.45 L289.11,244.95 L289.05,245.45 L289.00,245.95 L288.95,246.45 L288.90,246.95 L288.84,247.45 L288.79,247.95 L288.74,248.45 L288.69,248.95 L288.63,249.45 L288.58,249.95 L288.53,250.45 L288.48,250.95 L288.42,251.45 L288.37,251.95 L288.32,252.45 L288.27,252.95 L288.21,253.45 L288.16,253.95 L288.11,254.45 L288.06,254.95 L288.01,255.45 L287.97,255.95 L287.93,256.45 L287.88,256.95 L287.84,257.45 L287.80,257.96 L287.76,258.46 L287.71,258.96 L287.67,259.46 L287.63,259.96 L287.59,260.46 L287.54,260.96 L287.50,261.46 L287.46,261.96 L287.42,262.46 L287.37,262.96 L287.33,263.46 L287.29,263.96 L287.25,264.46 L287.22,264.96 L287.19,265.46 L287.17,265.96 L287.16,266.46 L287.14,266.96 L287.13,267.46 L287.11,267.96 L287.10,268.46 L287.08,268.96 L287.07,269.46 L287.05,269.96 L287.04,270.46 L287.02,270.96 L287.01,271.46 L286.99,271.96 L286.98,272.46 L286.96,272.97 L286.95,273.47 L286.93,273.97 L286.92,274.47 L286.91,274.97 L286.91,275.47 L286.91,275.97 L286.92,276.47 L286.92,276.97 L286.92,277.47 L286.93,277.97 L286.93,278.47 L286.94,278.97 L286.94,279.47 L286.95,279.97 L286.95,280.47 L286.96,280.97 L286.96,281.47 L286.97,281.97 L286.97,282.47 L286.98,282.97 L286.99,283.47 L286.99,283.97 L287.00,284.47 L287.02,284.97 L287.04,285.47 L287.07,285.97 L287.11,286.47 L287.15,286.97 L287.18,287.47 L287.22,287.98 L287.26,288.48 L287.29,288.98 L287.33,289.48 L287.37,289.98 L287.41,290.48 L287.44,290.98 L287.48,291.48 L287.52,291.98 L287.55,292.48 L287.59,292.98 L287.63,293.48 L287.67,293.98 L287.71,294.48 L287.76,294.98 L287.83,295.48 L287.90,295.98 L287.97,296.48 L288.05,296.98 L288.13,297.48 L288.21,297.98 L288.28,298.48 L288.36,298.98 L288.44,299.48 L288.52,299.98 L288.60,300.48 L288.67,300.98 L288.75,301.48 L288.83,301.98 L288.91,302.48 L288.99,302.99 L289.06,303.49 L289.14,303.99 L289.22,304.49 L289.31,304.99 L289.40,305.49 L289.49,305.99 L289.59,306.49 L289.69,306.99 L289.78,307.49 L289.88,307.99 L289.98,308.49 L290.07,308.99 L290.17,309.49 L290.27,309.99 L290.37,310.49 L290.46,310.99 L290.56,311.49 L290.66,311.99 L290.75,312.49 L290.85,312.99 L290.95,313.49 L291.04,313.99 L291.14,314.49 L291.24,314.99 L291.34,315.49 L291.44,315.99 L291.54,316.49 L291.64,316.99 L291.74,317.49 L291.84,318.00 L291.95,318.50 L292.05,319.00 L292.16,319.50 L292.27,320.00 L292.39,320.50 L292.52,321.00 L292.65,321.50 L292.78,322.00 L292.91,322.50 L293.04,323.00 L293.17,323.50 L293.30,324.00 L293.43,324.50 L293.53,325.00 L293.60,325.50 L301.10,325.50 L301.17,325.00 L301.27,324.50 L301.40,324.00 L301.53,323.50 L301.66,323.00 L301.79,322.50 L301.92,322.00 L302.05,321.50 L302.18,321.00 L302.31,320.50 L302.43,320.00 L302.54,319.50 L302.65,319.00 L302.75,318.50 L302.86,318.00 L302.96,317.49 L303.06,316.99 L303.16,316.49 L303.26,315.99 L303.36,315.49 L303.46,314.99 L303.56,314.49 L303.66,313.99 L303.75,313.49 L303.85,312.99 L303.95,312.49 L304.04,311.99 L304.14,311.49 L304.24,310.99 L304.33,310.49 L304.43,309.99 L304.53,309.49 L304.63,308.99 L304.72,308.49 L304.82,307.99 L304.92,307.49 L305.01,306.99 L305.11,306.49 L305.21,305.99 L305.30,305.49 L305.39,304.99 L305.48,304.49 L305.56,303.99 L305.64,303.49 L305.71,302.99 L305.79,302.48 L305.87,301.98 L305.95,301.48 L306.03,300.98 L306.10,300.48 L306.18,299.98 L306.26,299.48 L306.34,298.98 L306.42,298.48 L306.49,297.98 L306.57,297.48 L306.65,296.98 L306.73,296.48 L306.80,295.98 L306.87,295.48 L306.94,294.98 L306.99,294.48 L307.03,293.98 L307.07,293.48 L307.11,292.98 L307.15,292.48 L307.18,291.98 L307.22,291.48 L307.26,290.98 L307.29,290.48 L307.33,289.98 L307.37,289.48 L307.41,288.98 L307.44,288.48 L307.48,287.98 L307.52,287.47 L307.55,286.97 L307.59,286.47 L307.63,285.97 L307.66,285.47 L307.68,284.97 L307.70,284.47 L307.71,283.97 L307.71,283.47 L307.72,282.97 L307.73,282.47 L307.73,281.97 L307.74,281.47 L307.74,280.97 L307.75,280.47 L307.75,279.97 L307.76,279.47 L307.76,278.97 L307.77,278.47 L307.77,277.97 L307.78,277.47 L307.78,276.97 L307.78,276.47 L307.79,275.97 L307.79,275.47 L307.79,274.97 L307.78,274.47 L307.77,273.97 L307.75,273.47 L307.74,272.97 L307.72,272.46 L307.71,271.96 L307.69,271.46 L307.68,270.96 L307.66,270.46 L307.65,269.96 L307.63,269.46 L307.62,268.96 L307.60,268.46 L307.59,267.96 L307.57,267.46 L307.56,266.96 L307.54,266.46 L307.53,265.96 L307.51,265.46 L307.48,264.96 L307.45,264.46 L307.41,263.96 L307.37,263.46 L307.33,262.96 L307.28,262.46 L307.24,261.96 L307.20,261.46 L307.16,260.96 L307.11,260.46 L307.07,259.96 L307.03,259.46 L306.99,258.96 L306.94,258.46 L306.90,257.96 L306.86,257.45 L306.82,256.95 L306.77,256.45 L306.73,255.95 L306.69,255.45 L306.64,254.95 L306.59,254.45 L306.54,253.95 L306.49,253.45 L306.43,252.95 L306.38,252.45 L306.33,251.95 L306.28,251.45 L306.22,250.95 L306.17,250.45 L306.12,249.95 L306.07,249.45 L306.01,248.95 L305.96,248.45 L305.91,247.95 L305.86,247.45 L305.80,246.95 L305.75,246.45 L305.70,245.95 L305.65,245.45 L305.59,244.95 L305.54,244.45 L305.48,243.95 L305.43,243.45 L305.37,242.95 L305.32,242.44 L305.26,241.94 L305.21,241.44 L305.15,240.94 L305.10,240.44 L305.04,239.94 L304.99,239.44 L304.93,238.94 L304.88,238.44 L304.82,237.94 L304.77,237.44 L304.71,236.94 L304.66,236.44 L304.60,235.94 L304.55,235.44 L304.49,234.94 L304.44,234.44 L304.38,233.94 L304.32,233.44 L304.27,232.94 L304.21,232.44 L304.15,231.94 L304.10,231.44 L304.04,230.94 L303.98,230.44 L303.93,229.94 L303.87,229.44 L303.81,228.94 L303.76,228.44 L303.70,227.94 L303.65,227.43 L303.59,226.93 L303.53,226.43 L303.48,225.93 L303.42,225.43 L303.38,224.93 L303.33,224.43 L303.29,223.93 L303.25,223.43 L303.21,222.93 L303.17,222.43 L303.13,221.93 L303.10,221.43 L303.06,220.93 L303.02,220.43 L302.98,219.93 L302.94,219.43 L302.90,218.93 L302.86,218.43 L302.83,217.93 L302.79,217.43 L302.75,216.93 L302.71,216.43 L302.67,215.93 L302.64,215.43 L302.60,214.93 L302.58,214.43 L302.55,213.93 L302.52,213.43 L302.50,212.93 L302.48,212.42 L302.45,211.92 L302.43,211.42 L302.40,210.92 L302.37,210.42 L302.34,209.92 L302.30,209.42 L302.26,208.92 L302.21,208.42 L302.17,207.92 L302.12,207.42 L302.08,206.92 L302.03,206.42 L301.99,205.92 L301.95,205.42 L301.91,204.92 L301.88,204.42 L301.86,203.92 L301.84,203.42 L301.82,202.92 L301.80,202.42 L301.78,201.92 L301.76,201.42 L301.74,200.92 L301.72,200.42 L301.72,199.92 L301.71,199.42 L301.71,198.92 L301.72,198.42 L301.72,197.92 L301.73,197.41 L301.73,196.91 L301.74,196.41 L301.74,195.91 L301.75,195.41 L301.75,194.91 L301.76,194.41 L301.76,193.91 L301.77,193.41 L301.77,192.91 L301.78,192.41 L301.78,191.91 L301.79,191.41 L301.79,190.91 L301.80,190.41 L301.81,189.91 L301.82,189.41 L301.83,188.91 L301.84,188.41 L301.86,187.91 L301.87,187.41 L301.89,186.91 L301.90,186.41 L301.91,185.91 L301.93,185.41 L301.94,184.91 L301.96,184.41 L301.97,183.91 L301.98,183.41 L302.00,182.91 L302.01,182.40 L302.03,181.90 L302.04,181.40 L302.05,180.90 L302.07,180.40 L302.08,179.90 L302.10,179.40 L302.11,178.90 L302.12,178.40 L302.14,177.90 L302.15,177.40 L302.17,176.90 L302.18,176.40 L302.20,175.90 L302.21,175.40 L302.23,174.90 L302.25,174.40 L302.27,173.90 L302.29,173.40 L302.32,172.90 L302.34,172.40 L302.36,171.90 L302.38,171.40 L302.41,170.90 L302.43,170.40 L302.45,169.90 L302.47,169.40 L302.50,168.90 L302.52,168.40 L302.54,167.90 L302.56,167.40 L302.59,166.89 L302.61,166.39 L302.63,165.89 L302.66,165.39 L302.68,164.89 L302.70,164.39 L302.72,163.89 L302.75,163.39 L302.77,162.89 L302.79,162.39 L302.81,161.89 L302.84,161.39 L302.86,160.89 L302.88,160.39 L302.90,159.89 L302.91,159.39 L302.92,158.89 L302.93,158.39 L302.94,157.89 L302.95,157.39 L302.96,156.89 L302.97,156.39 L302.98,155.89 L302.99,155.39 L303.00,154.89 L303.01,154.39 L303.02,153.89 L303.03,153.39 L303.04,152.89 L303.05,152.39 L303.06,151.88 L303.07,151.38 L303.08,150.88 L303.09,150.38 L303.09,149.88 L303.08,149.38 L303.08,148.88 L303.07,148.38 L303.06,147.88 L303.05,147.38 L303.04,146.88 L303.03,146.38 L303.02,145.88 L303.01,145.38 L303.00,144.88 L302.99,144.38 L302.98,143.88 L302.97,143.38 L302.96,142.88 L302.95,142.38 L302.94,141.88 L302.93,141.38 L302.92,140.88 L302.91,140.38 L302.90,139.88 L302.89,139.38 L302.88,138.88 L302.87,138.38 L302.86,137.88 L302.85,137.38 L302.84,136.87 L302.83,136.37 L302.82,135.87 L302.81,135.37 L302.79,134.87 L302.78,134.37 L302.77,133.87 L302.75,133.37 L302.74,132.87 L302.73,132.37 L302.71,131.87 L302.70,131.37 L302.68,130.87 L302.67,130.37 L302.65,129.87 L302.64,129.37 L302.63,128.87 L302.61,128.37 L302.60,127.87 L302.58,127.37 L302.57,126.87 L302.55,126.37 L302.54,125.87 L302.53,125.37 L302.51,124.87 L302.50,124.37 L302.48,123.87 L302.47,123.37 L302.45,122.87 L302.44,122.37 L302.43,121.86 L302.41,121.36 L302.40,120.86 L302.38,120.36 L302.37,119.86 L302.35,119.36 L302.34,118.86 L302.33,118.36 L302.31,117.86 L302.30,117.36 L302.28,116.86 L302.27,116.36 L302.25,115.86 L302.24,115.36 L302.23,114.86 L302.21,114.36 L302.20,113.86 L302.18,113.36 L302.17,112.86 L302.15,112.36 L302.14,111.86 L302.13,111.36 L302.11,110.86 L302.10,110.36 L302.08,109.86 L302.07,109.36 L302.05,108.86 L302.04,108.36 L302.03,107.86 L302.01,107.36 L302.00,106.85 L301.98,106.35 L301.97,105.85 L301.96,105.35 L301.94,104.85 L301.93,104.35 L301.91,103.85 L301.90,103.35 L301.88,102.85 L301.87,102.35 L301.86,101.85 L301.84,101.35 L301.83,100.85 L301.81,100.35 L301.80,99.85 L301.78,99.35 L301.77,98.85 L301.76,98.35 L301.74,97.85 L301.73,97.35 L301.71,96.85 L301.70,96.35 L301.68,95.85 L301.67,95.35 L301.65,94.85 L301.64,94.35 L301.62,93.85 L301.61,93.35 L301.59,92.85 L301.57,92.35 L301.56,91.84 L301.54,91.34 L301.52,90.84 L301.51,90.34 L301.49,89.84 L301.47,89.34 L301.46,88.84 L301.44,88.34 L301.42,87.84 L301.41,87.34 L301.39,86.84 L301.37,86.34 L301.36,85.84 L301.34,85.34 L301.32,84.84 L301.31,84.34 L301.29,83.84 L301.28,83.34 L301.26,82.84 L301.24,82.34 L301.23,81.84 L301.21,81.34 L301.19,80.84 L301.18,80.34 L301.16,79.84 L301.14,79.34 L301.13,78.84 L301.11,78.34 L301.09,77.84 L301.08,77.34 L301.06,76.83 L301.04,76.33 L301.03,75.83 L301.01,75.33 L300.99,74.83 L300.98,74.33 L300.96,73.83 L300.94,73.33 L300.92,72.83 L300.91,72.33 L300.89,71.83 L300.87,71.33 L300.85,70.83 L300.84,70.33 L300.82,69.83 L300.80,69.33 L300.78,68.83 L300.77,68.33 L300.75,67.83 L300.73,67.33 L300.71,66.83 L300.70,66.33 L300.68,65.83 L300.66,65.33 L300.64,64.83 L300.63,64.33 L300.61,63.83 L300.59,63.33 L300.57,62.83 L300.56,62.33 L300.54,61.82 L300.52,61.32 L300.50,60.82 L300.49,60.32 L300.47,59.82 L300.45,59.32 L300.43,58.82 L300.42,58.32 L300.40,57.82 L300.38,57.32 L300.36,56.82 L300.35,56.32 L300.33,55.82 L300.31,55.32 L300.29,54.82 L300.27,54.32 L300.25,53.82 L300.23,53.32 L300.21,52.82 L300.19,52.32 L300.17,51.82 L300.15,51.32 L300.13,50.82 L300.11,50.32 L300.09,49.82 L300.07,49.32 L300.05,48.82 L300.03,48.32 L300.01,47.82 L299.99,47.32 L299.97,46.81 L299.95,46.31 L299.93,45.81 L299.91,45.31 L299.89,44.81 L299.87,44.31 L299.85,43.81 L299.83,43.31 L299.81,42.81 L299.78,42.31 L299.76,41.81 L299.74,41.31 L299.72,40.81 L299.70,40.31 L299.68,39.81 L299.66,39.31 L299.63,38.81 L299.61,38.31 L299.59,37.81 L299.57,37.31 L299.55,36.81 L299.53,36.31 L299.50,35.81 L299.48,35.31 L299.46,34.81 L299.43,34.31 L299.40,33.81 L299.37,33.31 L299.34,32.81 L299.31,32.31 L299.28,31.80 L299.26,31.30 L299.23,30.80 L299.20,30.30 L299.17,29.80 L299.14,29.30 L299.11,28.80 L299.08,28.30 L299.05,27.80 L299.02,27.30 L298.99,26.80 L298.97,26.30 L298.94,25.80 L298.91,25.30 L298.89,24.80 L298.87,24.30Z" fill="#E64B35" fill-opacity="0.55" stroke="#E64B35" stroke-width="2.5" stroke-linejoin="miter"/>
<path d="M357.14,15.40 L357.07,15.90 L356.96,16.40 L356.82,16.90 L356.68,17.40 L356.54,17.90 L356.40,18.40 L356.26,18.90 L356.12,19.40 L355.98,19.90 L355.84,20.40 L355.70,20.91 L355.56,21.41 L355.42,21.91 L355.28,22.41 L355.14,22.91 L355.00,23.41 L354.86,23.91 L354.73,24.41 L354.60,24.91 L354.49,25.41 L354.39,25.91 L354.30,26.41 L354.21,26.91 L354.12,27.41 L354.03,27.91 L353.94,28.41 L353.85,28.91 L353.76,29.41 L353.67,29.91 L353.59,30.41 L353.50,30.92 L353.42,31.42 L353.34,31.92 L353.26,32.42 L353.18,32.92 L353.10,33.42 L353.02,33.92 L352.95,34.42 L352.87,34.92 L352.79,35.42 L352.72,35.92 L352.65,36.42 L352.58,36.92 L352.51,37.42 L352.44,37.92 L352.37,38.42 L352.30,38.92 L352.23,39.42 L352.16,39.92 L352.09,40.42 L352.02,40.93 L351.95,41.43 L351.88,41.93 L351.81,42.43 L351.74,42.93 L351.67,43.43 L351.60,43.93 L351.53,44.43 L351.47,44.93 L351.41,45.43 L351.35,45.93 L351.29,46.43 L351.24,46.93 L351.18,47.43 L351.13,47.93 L351.07,48.43 L351.02,48.93 L350.96,49.43 L350.91,49.93 L350.85,50.43 L350.80,50.94 L350.75,51.44 L350.70,51.94 L350.67,52.44 L350.63,52.94 L350.60,53.44 L350.58,53.94 L350.55,54.44 L350.52,54.94 L350.50,55.44 L350.47,55.94 L350.44,56.44 L350.41,56.94 L350.39,57.44 L350.36,57.94 L350.33,58.44 L350.31,58.94 L350.29,59.44 L350.27,59.94 L350.26,60.44 L350.25,60.95 L350.25,61.45 L350.25,61.95 L350.25,62.45 L350.25,62.95 L350.25,63.45 L350.25,63.95 L350.26,64.45 L350.26,64.95 L350.28,65.45 L350.29,65.95 L350.31,66.45 L350.33,66.95 L350.36,67.45 L350.38,67.95 L350.40,68.45 L350.42,68.95 L350.44,69.45 L350.46,69.95 L350.48,70.45 L350.51,70.96 L350.53,71.46 L350.55,71.96 L350.57,72.46 L350.59,72.96 L350.61,73.46 L350.64,73.96 L350.66,74.46 L350.69,74.96 L350.72,75.46 L350.76,75.96 L350.80,76.46 L350.84,76.96 L350.88,77.46 L350.92,77.96 L350.96,78.46 L351.00,78.96 L351.05,79.46 L351.09,79.96 L351.13,80.46 L351.17,80.97 L351.21,81.47 L351.25,81.97 L351.29,82.47 L351.33,82.97 L351.37,83.47 L351.42,83.97 L351.46,84.47 L351.51,84.97 L351.56,85.47 L351.61,85.97 L351.67,86.47 L351.73,86.97 L351.79,87.47 L351.84,87.97 L351.90,88.47 L351.96,88.97 L352.02,89.47 L352.07,89.97 L352.13,90.47 L352.19,90.98 L352.25,91.48 L352.31,91.98 L352.37,92.48 L352.42,92.98 L352.48,93.48 L352.54,93.98 L352.60,94.48 L352.66,94.98 L352.72,95.48 L352.78,95.98 L352.84,96.48 L352.89,96.98 L352.95,97.48 L353.01,97.98 L353.07,98.48 L353.13,98.98 L353.19,99.48 L353.25,99.98 L353.30,100.48 L353.36,100.99 L353.41,101.49 L353.47,101.99 L353.52,102.49 L353.58,102.99 L353.63,103.49 L353.69,103.99 L353.74,104.49 L353.80,104.99 L353.85,105.49 L353.91,105.99 L353.96,106.49 L354.02,106.99 L354.07,107.49 L354.13,107.99 L354.18,108.49 L354.24,108.99 L354.29,109.49 L354.34,109.99 L354.39,110.49 L354.44,111.00 L354.48,111.50 L354.53,112.00 L354.57,112.50 L354.62,113.00 L354.66,113.50 L354.71,114.00 L354.75,114.50 L354.80,115.00 L354.84,115.50 L354.89,116.00 L354.94,116.50 L354.98,117.00 L355.03,117.50 L355.07,118.00 L355.12,118.50 L355.16,119.00 L355.20,119.50 L355.24,120.00 L355.28,120.50 L355.31,121.01 L355.34,121.51 L355.37,122.01 L355.40,122.51 L355.43,123.01 L355.46,123.51 L355.49,124.01 L355.52,124.51 L355.55,125.01 L355.58,125.51 L355.61,126.01 L355.63,126.51 L355.66,127.01 L355.69,127.51 L355.72,128.01 L355.75,128.51 L355.77,129.01 L355.80,129.51 L355.83,130.01 L355.86,130.51 L355.89,131.02 L355.91,131.52 L355.94,132.02 L355.97,132.52 L356.00,133.02 L356.03,133.52 L356.05,134.02 L356.08,134.52 L356.10,135.02 L356.12,135.52 L356.13,136.02 L356.15,136.52 L356.16,137.02 L356.17,137.52 L356.18,138.02 L356.19,138.52 L356.21,139.02 L356.22,139.52 L356.23,140.02 L356.24,140.52 L356.25,141.03 L356.27,141.53 L356.28,142.03 L356.29,142.53 L356.30,143.03 L356.31,143.53 L356.33,144.03 L356.34,144.53 L356.34,145.03 L356.35,145.53 L356.35,146.03 L356.35,146.53 L356.35,147.03 L356.35,147.53 L356.35,148.03 L356.35,148.53 L356.35,149.03 L356.35,149.53 L356.35,150.03 L356.35,150.53 L356.35,151.04 L356.35,151.54 L356.35,152.04 L356.35,152.54 L356.35,153.04 L356.35,153.54 L356.35,154.04 L356.35,154.54 L356.34,155.04 L356.33,155.54 L356.32,156.04 L356.30,156.54 L356.29,157.04 L356.27,157.54 L356.26,158.04 L356.24,158.54 L356.23,159.04 L356.21,159.54 L356.20,160.04 L356.18,160.54 L356.17,161.05 L356.15,161.55 L356.14,162.05 L356.12,162.55 L356.11,163.05 L356.09,163.55 L356.08,164.05 L356.06,164.55 L356.05,165.05 L356.03,165.55 L356.01,166.05 L355.99,166.55 L355.97,167.05 L355.96,167.55 L355.94,168.05 L355.92,168.55 L355.90,169.05 L355.88,169.55 L355.86,170.05 L355.85,170.55 L355.83,171.05 L355.81,171.56 L355.79,172.06 L355.77,172.56 L355.75,173.06 L355.74,173.56 L355.72,174.06 L355.70,174.56 L355.68,175.06 L355.66,175.56 L355.64,176.06 L355.63,176.56 L355.61,177.06 L355.59,177.56 L355.57,178.06 L355.55,178.56 L355.53,179.06 L355.52,179.56 L355.50,180.06 L355.49,180.56 L355.47,181.06 L355.46,181.57 L355.45,182.07 L355.44,182.57 L355.42,183.07 L355.41,183.57 L355.40,184.07 L355.39,184.57 L355.37,185.07 L355.36,185.57 L355.35,186.07 L355.34,186.57 L355.32,187.07 L355.31,187.57 L355.30,188.07 L355.29,188.57 L355.27,189.07 L355.26,189.57 L355.26,190.07 L355.25,190.57 L355.25,191.07 L355.25,191.58 L355.25,192.08 L355.25,192.58 L355.25,193.08 L355.25,193.58 L355.25,194.08 L355.25,194.58 L355.25,195.08 L355.25,195.58 L355.25,196.08 L355.25,196.58 L355.25,197.08 L355.25,197.58 L355.25,198.08 L355.25,198.58 L355.25,199.08 L355.25,199.58 L355.25,200.08 L355.25,200.58 L355.25,201.08 L355.25,201.59 L355.25,202.09 L355.25,202.59 L355.25,203.09 L355.25,203.59 L355.25,204.09 L355.25,204.59 L355.26,205.09 L355.27,205.59 L355.28,206.09 L355.29,206.59 L355.30,207.09 L355.31,207.59 L355.33,208.09 L355.34,208.59 L355.35,209.09 L355.36,209.59 L355.38,210.09 L355.39,210.59 L355.40,211.09 L355.41,211.60 L355.43,212.10 L355.44,212.60 L355.45,213.10 L355.47,213.60 L355.48,214.10 L355.49,214.60 L355.51,215.10 L355.53,215.60 L355.55,216.10 L355.57,216.60 L355.59,217.10 L355.62,217.60 L355.64,218.10 L355.66,218.60 L355.68,219.10 L355.71,219.60 L355.73,220.10 L355.75,220.60 L355.77,221.10 L355.80,221.61 L355.82,222.11 L355.84,222.61 L355.86,223.11 L355.89,223.61 L355.91,224.11 L355.93,224.61 L355.95,225.11 L355.97,225.61 L355.99,226.11 L356.01,226.61 L356.03,227.11 L356.05,227.61 L356.07,228.11 L356.09,228.61 L356.11,229.11 L356.13,229.61 L356.15,230.11 L356.17,230.61 L356.19,231.11 L356.21,231.62 L356.23,232.12 L356.25,232.62 L356.27,233.12 L356.29,233.62 L356.31,234.12 L356.33,234.62 L356.35,235.12 L356.36,235.62 L356.38,236.12 L356.39,236.62 L356.40,237.12 L356.41,237.62 L356.42,238.12 L356.44,238.62 L356.45,239.12 L356.46,239.62 L356.47,240.12 L356.48,240.62 L356.50,241.12 L356.51,241.63 L356.52,242.13 L356.53,242.63 L356.55,243.13 L356.56,243.63 L356.57,244.13 L356.58,244.63 L356.60,245.13 L356.62,245.63 L356.63,246.13 L356.65,246.63 L356.67,247.13 L356.69,247.63 L356.71,248.13 L356.73,248.63 L356.75,249.13 L356.77,249.63 L356.79,250.13 L356.81,250.63 L356.83,251.13 L356.85,251.64 L356.87,252.14 L356.89,252.64 L356.91,253.14 L356.93,253.64 L356.95,254.14 L356.96,254.64 L356.98,255.14 L357.00,255.64 L357.01,256.14 L357.02,256.64 L357.04,257.14 L357.05,257.64 L357.06,258.14 L357.08,258.64 L357.09,259.14 L357.11,259.64 L357.12,260.14 L357.13,260.64 L357.15,261.14 L357.16,261.65 L357.17,262.15 L357.19,262.65 L357.20,263.15 L357.21,263.65 L357.23,264.15 L357.24,264.65 L357.26,265.15 L357.27,265.65 L357.28,266.15 L357.30,266.65 L357.31,267.15 L357.33,267.65 L357.34,268.15 L357.36,268.65 L357.37,269.15 L357.39,269.65 L357.40,270.15 L357.42,270.65 L357.43,271.15 L357.45,271.66 L357.46,272.16 L357.48,272.66 L357.49,273.16 L357.51,273.66 L357.53,274.16 L357.54,274.66 L357.56,275.16 L357.58,275.66 L357.60,276.16 L357.62,276.66 L357.64,277.16 L357.66,277.66 L357.68,278.16 L357.70,278.66 L357.72,279.16 L357.74,279.66 L357.76,280.16 L357.78,280.66 L357.80,281.16 L357.82,281.67 L357.84,282.17 L357.86,282.67 L357.88,283.17 L357.90,283.67 L357.92,284.17 L357.94,284.67 L357.96,285.17 L357.98,285.67 L358.01,286.17 L358.03,286.67 L358.06,287.17 L358.08,287.67 L358.11,288.17 L358.13,288.67 L358.16,289.17 L358.18,289.67 L358.21,290.17 L358.23,290.67 L358.26,291.17 L358.28,291.68 L358.31,292.18 L358.33,292.68 L358.36,293.18 L358.38,293.68 L358.41,294.18 L358.43,294.68 L358.45,295.18 L358.47,295.68 L358.49,296.18 L358.51,296.68 L358.52,297.18 L358.54,297.68 L358.55,298.18 L358.57,298.68 L358.59,299.18 L358.60,299.68 L358.62,300.18 L358.64,300.68 L358.65,301.18 L358.67,301.69 L358.69,302.19 L358.70,302.69 L358.72,303.19 L358.74,303.69 L358.75,304.19 L358.77,304.69 L358.79,305.19 L358.81,305.69 L358.82,306.19 L358.84,306.69 L358.86,307.19 L358.88,307.69 L358.90,308.19 L358.92,308.69 L358.94,309.19 L358.95,309.69 L358.97,310.19 L358.99,310.69 L359.01,311.19 L359.03,311.70 L359.05,312.20 L359.06,312.70 L359.08,313.20 L359.10,313.70 L359.13,314.20 L359.16,314.70 L359.19,315.20 L359.24,315.70 L359.28,316.20 L359.31,316.70 L362.49,316.70 L362.52,316.20 L362.56,315.70 L362.61,315.20 L362.64,314.70 L362.67,314.20 L362.70,313.70 L362.72,313.20 L362.74,312.70 L362.75,312.20 L362.77,311.70 L362.79,311.19 L362.81,310.69 L362.83,310.19 L362.85,309.69 L362.86,309.19 L362.88,308.69 L362.90,308.19 L362.92,307.69 L362.94,307.19 L362.96,306.69 L362.98,306.19 L362.99,305.69 L363.01,305.19 L363.03,304.69 L363.05,304.19 L363.06,303.69 L363.08,303.19 L363.10,302.69 L363.11,302.19 L363.13,301.69 L363.15,301.18 L363.16,300.68 L363.18,300.18 L363.20,299.68 L363.21,299.18 L363.23,298.68 L363.25,298.18 L363.26,297.68 L363.28,297.18 L363.29,296.68 L363.31,296.18 L363.33,295.68 L363.35,295.18 L363.37,294.68 L363.39,294.18 L363.42,293.68 L363.44,293.18 L363.47,292.68 L363.49,292.18 L363.52,291.68 L363.54,291.17 L363.57,290.67 L363.59,290.17 L363.62,289.67 L363.64,289.17 L363.67,288.67 L363.69,288.17 L363.72,287.67 L363.74,287.17 L363.77,286.67 L363.79,286.17 L363.82,285.67 L363.84,285.17 L363.86,284.67 L363.88,284.17 L363.90,283.67 L363.92,283.17 L363.94,282.67 L363.96,282.17 L363.98,281.67 L364.00,281.16 L364.02,280.66 L364.04,280.16 L364.06,279.66 L364.08,279.16 L364.10,278.66 L364.12,278.16 L364.14,277.66 L364.16,277.16 L364.18,276.66 L364.20,276.16 L364.22,275.66 L364.24,275.16 L364.26,274.66 L364.27,274.16 L364.29,273.66 L364.31,273.16 L364.32,272.66 L364.34,272.16 L364.35,271.66 L364.37,271.15 L364.38,270.65 L364.40,270.15 L364.41,269.65 L364.43,269.15 L364.44,268.65 L364.46,268.15 L364.47,267.65 L364.49,267.15 L364.50,266.65 L364.52,266.15 L364.53,265.65 L364.54,265.15 L364.56,264.65 L364.57,264.15 L364.59,263.65 L364.60,263.15 L364.61,262.65 L364.63,262.15 L364.64,261.65 L364.65,261.14 L364.67,260.64 L364.68,260.14 L364.69,259.64 L364.71,259.14 L364.72,258.64 L364.74,258.14 L364.75,257.64 L364.76,257.14 L364.78,256.64 L364.79,256.14 L364.80,255.64 L364.82,255.14 L364.84,254.64 L364.85,254.14 L364.87,253.64 L364.89,253.14 L364.91,252.64 L364.93,252.14 L364.95,251.64 L364.97,251.13 L364.99,250.63 L365.01,250.13 L365.03,249.63 L365.05,249.13 L365.07,248.63 L365.09,248.13 L365.11,247.63 L365.13,247.13 L365.15,246.63 L365.17,246.13 L365.18,245.63 L365.20,245.13 L365.22,244.63 L365.23,244.13 L365.24,243.63 L365.25,243.13 L365.27,242.63 L365.28,242.13 L365.29,241.63 L365.30,241.12 L365.32,240.62 L365.33,240.12 L365.34,239.62 L365.35,239.12 L365.36,238.62 L365.38,238.12 L365.39,237.62 L365.40,237.12 L365.41,236.62 L365.42,236.12 L365.44,235.62 L365.45,235.12 L365.47,234.62 L365.49,234.12 L365.51,233.62 L365.53,233.12 L365.55,232.62 L365.57,232.12 L365.59,231.62 L365.61,231.11 L365.63,230.61 L365.65,230.11 L365.67,229.61 L365.69,229.11 L365.71,228.61 L365.73,228.11 L365.75,227.61 L365.77,227.11 L365.79,226.61 L365.81,226.11 L365.83,225.61 L365.85,225.11 L365.87,224.61 L365.89,224.11 L365.91,223.61 L365.94,223.11 L365.96,222.61 L365.98,222.11 L366.00,221.61 L366.03,221.10 L366.05,220.60 L366.07,220.10 L366.09,219.60 L366.12,219.10 L366.14,218.60 L366.16,218.10 L366.18,217.60 L366.21,217.10 L366.23,216.60 L366.25,216.10 L366.27,215.60 L366.29,215.10 L366.31,214.60 L366.32,214.10 L366.33,213.60 L366.35,213.10 L366.36,212.60 L366.37,212.10 L366.39,211.60 L366.40,211.09 L366.41,210.59 L366.42,210.09 L366.44,209.59 L366.45,209.09 L366.46,208.59 L366.47,208.09 L366.49,207.59 L366.50,207.09 L366.51,206.59 L366.52,206.09 L366.53,205.59 L366.54,205.09 L366.55,204.59 L366.55,204.09 L366.55,203.59 L366.55,203.09 L366.55,202.59 L366.55,202.09 L366.55,201.59 L366.55,201.08 L366.55,200.58 L366.55,200.08 L366.55,199.58 L366.55,199.08 L366.55,198.58 L366.55,198.08 L366.55,197.58 L366.55,197.08 L366.55,196.58 L366.55,196.08 L366.55,195.58 L366.55,195.08 L366.55,194.58 L366.55,194.08 L366.55,193.58 L366.55,193.08 L366.55,192.58 L366.55,192.08 L366.55,191.58 L366.55,191.07 L366.55,190.57 L366.54,190.07 L366.54,189.57 L366.53,189.07 L366.51,188.57 L366.50,188.07 L366.49,187.57 L366.48,187.07 L366.46,186.57 L366.45,186.07 L366.44,185.57 L366.43,185.07 L366.41,184.57 L366.40,184.07 L366.39,183.57 L366.38,183.07 L366.36,182.57 L366.35,182.07 L366.34,181.57 L366.33,181.06 L366.31,180.56 L366.30,180.06 L366.28,179.56 L366.27,179.06 L366.25,178.56 L366.23,178.06 L366.21,177.56 L366.19,177.06 L366.17,176.56 L366.16,176.06 L366.14,175.56 L366.12,175.06 L366.10,174.56 L366.08,174.06 L366.06,173.56 L366.05,173.06 L366.03,172.56 L366.01,172.06 L365.99,171.56 L365.97,171.05 L365.95,170.55 L365.94,170.05 L365.92,169.55 L365.90,169.05 L365.88,168.55 L365.86,168.05 L365.84,167.55 L365.83,167.05 L365.81,166.55 L365.79,166.05 L365.77,165.55 L365.75,165.05 L365.74,164.55 L365.72,164.05 L365.71,163.55 L365.69,163.05 L365.68,162.55 L365.66,162.05 L365.65,161.55 L365.63,161.05 L365.62,160.54 L365.60,160.04 L365.59,159.54 L365.57,159.04 L365.56,158.54 L365.54,158.04 L365.53,157.54 L365.51,157.04 L365.50,156.54 L365.48,156.04 L365.47,155.54 L365.46,155.04 L365.45,154.54 L365.45,154.04 L365.45,153.54 L365.45,153.04 L365.45,152.54 L365.45,152.04 L365.45,151.54 L365.45,151.04 L365.45,150.53 L365.45,150.03 L365.45,149.53 L365.45,149.03 L365.45,148.53 L365.45,148.03 L365.45,147.53 L365.45,147.03 L365.45,146.53 L365.45,146.03 L365.45,145.53 L365.46,145.03 L365.46,144.53 L365.47,144.03 L365.49,143.53 L365.50,143.03 L365.51,142.53 L365.52,142.03 L365.53,141.53 L365.55,141.03 L365.56,140.52 L365.57,140.02 L365.58,139.52 L365.59,139.02 L365.61,138.52 L365.62,138.02 L365.63,137.52 L365.64,137.02 L365.65,136.52 L365.67,136.02 L365.68,135.52 L365.70,135.02 L365.72,134.52 L365.75,134.02 L365.77,133.52 L365.80,133.02 L365.83,132.52 L365.86,132.02 L365.89,131.52 L365.91,131.02 L365.94,130.51 L365.97,130.01 L366.00,129.51 L366.03,129.01 L366.05,128.51 L366.08,128.01 L366.11,127.51 L366.14,127.01 L366.17,126.51 L366.19,126.01 L366.22,125.51 L366.25,125.01 L366.28,124.51 L366.31,124.01 L366.34,123.51 L366.37,123.01 L366.40,122.51 L366.43,122.01 L366.46,121.51 L366.49,121.01 L366.52,120.50 L366.56,120.00 L366.60,119.50 L366.64,119.00 L366.68,118.50 L366.73,118.00 L366.77,117.50 L366.82,117.00 L366.86,116.50 L366.91,116.00 L366.96,115.50 L367.00,115.00 L367.05,114.50 L367.09,114.00 L367.14,113.50 L367.18,113.00 L367.23,112.50 L367.27,112.00 L367.32,111.50 L367.36,111.00 L367.41,110.49 L367.46,109.99 L367.51,109.49 L367.56,108.99 L367.62,108.49 L367.67,107.99 L367.73,107.49 L367.78,106.99 L367.84,106.49 L367.89,105.99 L367.95,105.49 L368.00,104.99 L368.06,104.49 L368.11,103.99 L368.17,103.49 L368.22,102.99 L368.28,102.49 L368.33,101.99 L368.39,101.49 L368.44,100.99 L368.50,100.48 L368.55,99.98 L368.61,99.48 L368.67,98.98 L368.73,98.48 L368.79,97.98 L368.85,97.48 L368.91,96.98 L368.96,96.48 L369.02,95.98 L369.08,95.48 L369.14,94.98 L369.20,94.48 L369.26,93.98 L369.32,93.48 L369.38,92.98 L369.43,92.48 L369.49,91.98 L369.55,91.48 L369.61,90.98 L369.67,90.47 L369.73,89.97 L369.78,89.47 L369.84,88.97 L369.90,88.47 L369.96,87.97 L370.01,87.47 L370.07,86.97 L370.13,86.47 L370.19,85.97 L370.24,85.47 L370.29,84.97 L370.34,84.47 L370.38,83.97 L370.43,83.47 L370.47,82.97 L370.51,82.47 L370.55,81.97 L370.59,81.47 L370.63,80.97 L370.67,80.46 L370.71,79.96 L370.75,79.46 L370.80,78.96 L370.84,78.46 L370.88,77.96 L370.92,77.46 L370.96,76.96 L371.00,76.46 L371.04,75.96 L371.08,75.46 L371.11,74.96 L371.14,74.46 L371.16,73.96 L371.19,73.46 L371.21,72.96 L371.23,72.46 L371.25,71.96 L371.27,71.46 L371.29,70.96 L371.32,70.45 L371.34,69.95 L371.36,69.45 L371.38,68.95 L371.40,68.45 L371.42,67.95 L371.44,67.45 L371.47,66.95 L371.49,66.45 L371.51,65.95 L371.52,65.45 L371.54,64.95 L371.54,64.45 L371.55,63.95 L371.55,63.45 L371.55,62.95 L371.55,62.45 L371.55,61.95 L371.55,61.45 L371.55,60.95 L371.54,60.44 L371.53,59.94 L371.51,59.44 L371.49,58.94 L371.47,58.44 L371.44,57.94 L371.41,57.44 L371.39,56.94 L371.36,56.44 L371.33,55.94 L371.30,55.44 L371.28,54.94 L371.25,54.44 L371.22,53.94 L371.20,53.44 L371.17,52.94 L371.13,52.44 L371.10,51.94 L371.05,51.44 L371.00,50.94 L370.95,50.43 L370.89,49.93 L370.84,49.43 L370.78,48.93 L370.73,48.43 L370.67,47.93 L370.62,47.43 L370.56,46.93 L370.51,46.43 L370.45,45.93 L370.39,45.43 L370.33,44.93 L370.27,44.43 L370.20,43.93 L370.13,43.43 L370.06,42.93 L369.99,42.43 L369.92,41.93 L369.85,41.43 L369.78,40.93 L369.71,40.42 L369.64,39.92 L369.57,39.42 L369.50,38.92 L369.43,38.42 L369.36,37.92 L369.29,37.42 L369.22,36.92 L369.15,36.42 L369.08,35.92 L369.01,35.42 L368.93,34.92 L368.85,34.42 L368.78,33.92 L368.70,33.42 L368.62,32.92 L368.54,32.42 L368.46,31.92 L368.38,31.42 L368.30,30.92 L368.21,30.41 L368.13,29.91 L368.04,29.41 L367.95,28.91 L367.86,28.41 L367.77,27.91 L367.68,27.41 L367.59,26.91 L367.50,26.41 L367.41,25.91 L367.31,25.41 L367.20,24.91 L367.07,24.41 L366.94,23.91 L366.80,23.41 L366.66,22.91 L366.52,22.41 L366.38,21.91 L366.24,21.41 L366.10,20.91 L365.96,20.40 L365.82,19.90 L365.68,19.40 L365.54,18.90 L365.40,18.40 L365.26,17.90 L365.12,17.40 L364.98,16.90 L364.84,16.40 L364.73,15.90 L364.66,15.40Z" fill="#4DBBD5" fill-opacity="0.55" stroke="#4DBBD5" stroke-width="2.5" stroke-linejoin="miter"/>
<line x1="127.8" x2="127.8" y1="66.0" y2="242.8" stroke="#333333" stroke-width="1.9"/>
<circle cx="127.8" cy="137.0" r="5.2" fill="#333333"/>
<line x1="170.2" x2="170.2" y1="116.8" y2="311.6" stroke="#333333" stroke-width="1.9"/>
<circle cx="170.2" cy="244.4" r="5.2" fill="#333333"/>
<line x1="212.6" x2="212.6" y1="242.2" y2="322.3" stroke="#333333" stroke-width="1.9"/>
<circle cx="212.6" cy="287.9" r="5.2" fill="#333333"/>
<line x1="297.4" x2="297.4" y1="36.0" y2="316.7" stroke="#333333" stroke-width="1.9"/>
<circle cx="297.4" cy="206.5" r="5.2" fill="#333333"/>
<line x1="360.9" x2="360.9" y1="25.0" y2="305.3" stroke="#333333" stroke-width="1.9"/>
<circle cx="360.9" cy="134.5" r="5.2" fill="#333333"/>
<g font-size="18.4" fill="#4D4D4D" text-anchor="end">
<text transform="translate(60.9,334.9) scale(0.955,1)">0.00</text>
<text transform="translate(60.9,256.0) scale(0.955,1)">0.25</text>
<text transform="translate(60.9,177.0) scale(0.955,1)">0.50</text>
<text transform="translate(60.9,98.1) scale(0.955,1)">0.75</text>
<text transform="translate(60.9,19.1) scale(0.955,1)">1.00</text>
</g>
<text transform="translate(15.3,171.55) rotate(-90)" font-size="20.15" fill="#000" text-anchor="middle">Proportion of transmission events</text>
<g font-size="17.2" fill="#4D4D4D" text-anchor="end">
<text transform="translate(179,366.3) rotate(-45)"><tspan x="0" y="0">Domestic</tspan><tspan x="0" y="18.5">pig farms</tspan></text>
<text transform="translate(338,366.3) rotate(-45)"><tspan x="0" y="0">Wild boar</tspan><tspan x="0" y="18.5">patches</tspan></text>
</g>
<text x="250" y="458.6" font-size="20.2" fill="#000" text-anchor="middle">Recipient</text>
<text x="471.7" y="75.4" font-size="20.2" fill="#000">Source</text>
<rect x="472" y="93.2" width="25" height="68.4" fill="#333333"/>
<rect x="472" y="115.5" width="25" height="1.6" fill="#707070"/>
<rect x="472" y="137.9" width="25" height="2.0" fill="#707070"/>
<rect x="473.95" y="95.9" width="21.25" height="18.1" fill="#EB6F5D"/>
<text x="513" y="111.3" font-size="17.4" fill="#000">Domestic pig farms</text>
<rect x="473.95" y="118.8" width="21.25" height="17.8" fill="#71C9DD"/>
<text x="513" y="133.8" font-size="17.4" fill="#000">Wild boar patches</text>
<rect x="473.95" y="141.5" width="21.25" height="18.2" fill="#33B39F"/>
<text x="513" y="156.9" font-size="17.4" fill="#000">External sources</text>
<text x="471.7" y="213" font-size="20.2" fill="#000">Summary</text>
<circle cx="490.8" cy="244" r="7.2" fill="#333333"/>
<text x="526" y="250.2" font-size="17.4" fill="#000">Mean</text>
<line x1="490.7" x2="490.7" y1="262.1" y2="291.9" stroke="#333" stroke-width="2.2"/>
<text x="526" y="282.8" font-size="17.4" fill="#000">95% credible interval</text>
</svg></body></html>
